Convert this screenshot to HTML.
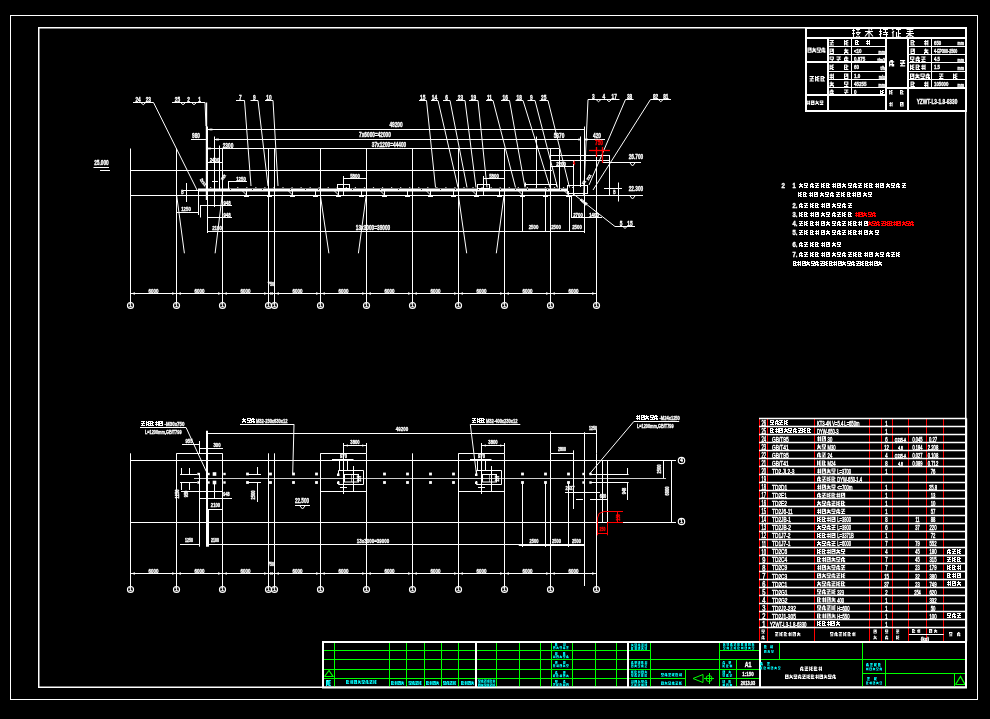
<!DOCTYPE html>
<html><head><meta charset="utf-8"><style>
html,body{margin:0;padding:0;background:#000;width:990px;height:719px;overflow:hidden}
svg{display:block;will-change:transform}
text{font-family:"Liberation Sans",sans-serif}
</style></head><body>
<svg width="990" height="719" viewBox="0 0 990 719">
<defs><path id="g0" d="M0 0h4v1h-4zM0 1h1v1h-1zM2 1h2v1h-2zM0 2h4v1h-4zM0 3h1v1h-1zM3 3h1v1h-1zM0 4h4v1h-4z"/><path id="g1" d="M1 0h1v1h-1zM0 1h4v1h-4zM1 2h2v1h-2zM0 3h4v1h-4zM0 4h1v1h-1zM3 4h1v1h-1z"/><path id="g2" d="M0 0h3v1h-3zM0 1h1v1h-1zM2 1h2v1h-2zM0 2h3v1h-3zM0 3h1v1h-1zM2 3h1v1h-1zM0 4h4v1h-4z"/><path id="g3" d="M1 0h1v1h-1zM3 0h1v1h-1zM0 1h4v1h-4zM1 2h1v1h-1zM3 2h1v1h-1zM0 3h4v1h-4zM1 4h1v1h-1zM3 4h1v1h-1z"/><path id="g4" d="M0 0h4v1h-4zM2 1h1v1h-1zM0 2h4v1h-4zM1 3h1v1h-1zM0 4h4v1h-4z"/><path id="g5" d="M0 0h1v1h-1zM2 0h2v1h-2zM0 1h3v1h-3zM0 2h1v1h-1zM2 2h2v1h-2zM0 3h3v1h-3zM0 4h1v1h-1zM2 4h2v1h-2z"/><path id="g6" d="M0 0h4v1h-4zM0 1h1v1h-1zM3 1h1v1h-1zM0 2h4v1h-4zM2 3h1v1h-1zM0 4h4v1h-4z"/><path id="g7" d="M1 0h2v1h-2zM0 1h4v1h-4zM0 2h1v1h-1zM2 2h1v1h-1zM0 3h4v1h-4zM0 4h1v1h-1zM2 4h2v1h-2z"/></defs>
<rect width="990" height="719" fill="#000"/>
<rect x="10.5" y="15.5" width="967" height="684" fill="none" stroke="#fff" stroke-width="1"/>
<rect x="38.75" y="27.75" width="927" height="659.5" fill="none" stroke="#fff" stroke-width="1.5"/>
<line x1="130.5" y1="148.5" x2="130.5" y2="302.5" stroke="#fff" stroke-width="1"/>
<circle cx="130.5" cy="305.5" r="3" fill="none" stroke="#fff" stroke-width="1.2"/>
<text x="145.00" y="307.5" transform="scale(0.9,1)" font-size="5" fill="#fff" stroke="#fff" stroke-width="0.35" text-anchor="middle" font-weight="bold">1</text>
<line x1="176.5" y1="148.5" x2="176.5" y2="302.5" stroke="#fff" stroke-width="1"/>
<circle cx="176.5" cy="305.5" r="3" fill="none" stroke="#fff" stroke-width="1.2"/>
<text x="196.11" y="307.5" transform="scale(0.9,1)" font-size="5" fill="#fff" stroke="#fff" stroke-width="0.35" text-anchor="middle" font-weight="bold">1</text>
<line x1="222.5" y1="148.5" x2="222.5" y2="302.5" stroke="#fff" stroke-width="1"/>
<circle cx="222.5" cy="305.5" r="3" fill="none" stroke="#fff" stroke-width="1.2"/>
<text x="247.22" y="307.5" transform="scale(0.9,1)" font-size="5" fill="#fff" stroke="#fff" stroke-width="0.35" text-anchor="middle" font-weight="bold">1</text>
<line x1="268.5" y1="148.5" x2="268.5" y2="302.5" stroke="#fff" stroke-width="1"/>
<circle cx="268.5" cy="305.5" r="3" fill="none" stroke="#fff" stroke-width="1.2"/>
<text x="298.33" y="307.5" transform="scale(0.9,1)" font-size="5" fill="#fff" stroke="#fff" stroke-width="0.35" text-anchor="middle" font-weight="bold">1</text>
<line x1="274.5" y1="148.5" x2="274.5" y2="302.5" stroke="#fff" stroke-width="1"/>
<circle cx="274.5" cy="305.5" r="3" fill="none" stroke="#fff" stroke-width="1.2"/>
<text x="305.00" y="307.5" transform="scale(0.9,1)" font-size="5" fill="#fff" stroke="#fff" stroke-width="0.35" text-anchor="middle" font-weight="bold">1</text>
<line x1="320.5" y1="148.5" x2="320.5" y2="302.5" stroke="#fff" stroke-width="1"/>
<circle cx="320.5" cy="305.5" r="3" fill="none" stroke="#fff" stroke-width="1.2"/>
<text x="356.11" y="307.5" transform="scale(0.9,1)" font-size="5" fill="#fff" stroke="#fff" stroke-width="0.35" text-anchor="middle" font-weight="bold">1</text>
<line x1="366.5" y1="148.5" x2="366.5" y2="302.5" stroke="#fff" stroke-width="1"/>
<circle cx="366.5" cy="305.5" r="3" fill="none" stroke="#fff" stroke-width="1.2"/>
<text x="407.22" y="307.5" transform="scale(0.9,1)" font-size="5" fill="#fff" stroke="#fff" stroke-width="0.35" text-anchor="middle" font-weight="bold">1</text>
<line x1="412.5" y1="148.5" x2="412.5" y2="302.5" stroke="#fff" stroke-width="1"/>
<circle cx="412.5" cy="305.5" r="3" fill="none" stroke="#fff" stroke-width="1.2"/>
<text x="458.33" y="307.5" transform="scale(0.9,1)" font-size="5" fill="#fff" stroke="#fff" stroke-width="0.35" text-anchor="middle" font-weight="bold">1</text>
<line x1="458.5" y1="148.5" x2="458.5" y2="302.5" stroke="#fff" stroke-width="1"/>
<circle cx="458.5" cy="305.5" r="3" fill="none" stroke="#fff" stroke-width="1.2"/>
<text x="509.44" y="307.5" transform="scale(0.9,1)" font-size="5" fill="#fff" stroke="#fff" stroke-width="0.35" text-anchor="middle" font-weight="bold">1</text>
<line x1="504.5" y1="148.5" x2="504.5" y2="302.5" stroke="#fff" stroke-width="1"/>
<circle cx="504.5" cy="305.5" r="3" fill="none" stroke="#fff" stroke-width="1.2"/>
<text x="560.56" y="307.5" transform="scale(0.9,1)" font-size="5" fill="#fff" stroke="#fff" stroke-width="0.35" text-anchor="middle" font-weight="bold">1</text>
<line x1="550.5" y1="148.5" x2="550.5" y2="302.5" stroke="#fff" stroke-width="1"/>
<circle cx="550.5" cy="305.5" r="3" fill="none" stroke="#fff" stroke-width="1.2"/>
<text x="611.67" y="307.5" transform="scale(0.9,1)" font-size="5" fill="#fff" stroke="#fff" stroke-width="0.35" text-anchor="middle" font-weight="bold">1</text>
<line x1="596.5" y1="148.5" x2="596.5" y2="302.5" stroke="#fff" stroke-width="1"/>
<circle cx="596.5" cy="305.5" r="3" fill="none" stroke="#fff" stroke-width="1.2"/>
<text x="662.78" y="307.5" transform="scale(0.9,1)" font-size="5" fill="#fff" stroke="#fff" stroke-width="0.35" text-anchor="middle" font-weight="bold">1</text>
<line x1="130" y1="170.5" x2="552" y2="170.5" stroke="#fff" stroke-width="1"/>
<line x1="130" y1="195.5" x2="643" y2="195.5" stroke="#fff" stroke-width="1"/>
<line x1="198" y1="190" x2="567" y2="190" stroke="#fff" stroke-width="3"/>
<rect x="210.0" y="187" width="1.2" height="1" fill="#fff" fill-opacity="0.8"/>
<rect x="219.05" y="187" width="1.2" height="1" fill="#fff" fill-opacity="0.8"/>
<rect x="228.1" y="187" width="1.2" height="1" fill="#fff" fill-opacity="0.8"/>
<rect x="237.15" y="187" width="1.2" height="1" fill="#fff" fill-opacity="0.8"/>
<rect x="246.2" y="187" width="1.2" height="1" fill="#fff" fill-opacity="0.8"/>
<rect x="255.25" y="187" width="1.2" height="1" fill="#fff" fill-opacity="0.8"/>
<rect x="264.3" y="187" width="1.2" height="1" fill="#fff" fill-opacity="0.8"/>
<rect x="273.35" y="187" width="1.2" height="1" fill="#fff" fill-opacity="0.8"/>
<rect x="282.4" y="187" width="1.2" height="1" fill="#fff" fill-opacity="0.8"/>
<rect x="291.45" y="187" width="1.2" height="1" fill="#fff" fill-opacity="0.8"/>
<rect x="300.5" y="187" width="1.2" height="1" fill="#fff" fill-opacity="0.8"/>
<rect x="309.55" y="187" width="1.2" height="1" fill="#fff" fill-opacity="0.8"/>
<rect x="318.6" y="187" width="1.2" height="1" fill="#fff" fill-opacity="0.8"/>
<rect x="327.65" y="187" width="1.2" height="1" fill="#fff" fill-opacity="0.8"/>
<rect x="336.70000000000005" y="187" width="1.2" height="1" fill="#fff" fill-opacity="0.8"/>
<rect x="345.75" y="187" width="1.2" height="1" fill="#fff" fill-opacity="0.8"/>
<rect x="354.8" y="187" width="1.2" height="1" fill="#fff" fill-opacity="0.8"/>
<rect x="363.85" y="187" width="1.2" height="1" fill="#fff" fill-opacity="0.8"/>
<rect x="372.9" y="187" width="1.2" height="1" fill="#fff" fill-opacity="0.8"/>
<rect x="381.95000000000005" y="187" width="1.2" height="1" fill="#fff" fill-opacity="0.8"/>
<rect x="391.0" y="187" width="1.2" height="1" fill="#fff" fill-opacity="0.8"/>
<rect x="400.05" y="187" width="1.2" height="1" fill="#fff" fill-opacity="0.8"/>
<rect x="409.1" y="187" width="1.2" height="1" fill="#fff" fill-opacity="0.8"/>
<rect x="418.15" y="187" width="1.2" height="1" fill="#fff" fill-opacity="0.8"/>
<rect x="427.20000000000005" y="187" width="1.2" height="1" fill="#fff" fill-opacity="0.8"/>
<rect x="436.25" y="187" width="1.2" height="1" fill="#fff" fill-opacity="0.8"/>
<rect x="445.3" y="187" width="1.2" height="1" fill="#fff" fill-opacity="0.8"/>
<rect x="454.35" y="187" width="1.2" height="1" fill="#fff" fill-opacity="0.8"/>
<rect x="463.40000000000003" y="187" width="1.2" height="1" fill="#fff" fill-opacity="0.8"/>
<rect x="472.45000000000005" y="187" width="1.2" height="1" fill="#fff" fill-opacity="0.8"/>
<rect x="481.5" y="187" width="1.2" height="1" fill="#fff" fill-opacity="0.8"/>
<rect x="490.55" y="187" width="1.2" height="1" fill="#fff" fill-opacity="0.8"/>
<rect x="499.6" y="187" width="1.2" height="1" fill="#fff" fill-opacity="0.8"/>
<rect x="508.65000000000003" y="187" width="1.2" height="1" fill="#fff" fill-opacity="0.8"/>
<rect x="517.7" y="187" width="1.2" height="1" fill="#fff" fill-opacity="0.8"/>
<rect x="526.75" y="187" width="1.2" height="1" fill="#fff" fill-opacity="0.8"/>
<rect x="535.8" y="187" width="1.2" height="1" fill="#fff" fill-opacity="0.8"/>
<rect x="544.85" y="187" width="1.2" height="1" fill="#fff" fill-opacity="0.8"/>
<rect x="553.9000000000001" y="187" width="1.2" height="1" fill="#fff" fill-opacity="0.8"/>
<rect x="562.95" y="187" width="1.2" height="1" fill="#fff" fill-opacity="0.8"/>
<rect x="572.0" y="187" width="1.2" height="1" fill="#fff" fill-opacity="0.8"/>
<rect x="230" y="189" width="1" height="1" fill="#000" fill-opacity="0.8"/>
<rect x="252" y="189" width="1" height="1" fill="#000" fill-opacity="0.8"/>
<rect x="262" y="189" width="1" height="1" fill="#000" fill-opacity="0.8"/>
<rect x="290" y="189" width="1" height="1" fill="#000" fill-opacity="0.8"/>
<rect x="305" y="189" width="1" height="1" fill="#000" fill-opacity="0.8"/>
<rect x="318" y="189" width="1" height="1" fill="#000" fill-opacity="0.8"/>
<rect x="343" y="189" width="1" height="1" fill="#000" fill-opacity="0.8"/>
<rect x="352" y="189" width="1" height="1" fill="#000" fill-opacity="0.8"/>
<rect x="380" y="189" width="1" height="1" fill="#000" fill-opacity="0.8"/>
<rect x="398" y="189" width="1" height="1" fill="#000" fill-opacity="0.8"/>
<rect x="421" y="189" width="1" height="1" fill="#000" fill-opacity="0.8"/>
<rect x="440" y="189" width="1" height="1" fill="#000" fill-opacity="0.8"/>
<rect x="455" y="189" width="1" height="1" fill="#000" fill-opacity="0.8"/>
<rect x="478" y="189" width="1" height="1" fill="#000" fill-opacity="0.8"/>
<rect x="500" y="189" width="1" height="1" fill="#000" fill-opacity="0.8"/>
<rect x="515" y="189" width="1" height="1" fill="#000" fill-opacity="0.8"/>
<rect x="527" y="189" width="1" height="1" fill="#000" fill-opacity="0.8"/>
<rect x="547" y="189" width="1" height="1" fill="#000" fill-opacity="0.8"/>
<rect x="560" y="189" width="1" height="1" fill="#000" fill-opacity="0.8"/>
<line x1="246.5" y1="191" x2="246.5" y2="196" stroke="#fff" stroke-width="1"/>
<line x1="244.0" y1="196.5" x2="249.0" y2="196.5" stroke="#fff" stroke-width="1"/>
<line x1="242.5" y1="191" x2="246.5" y2="195" stroke="#fff" stroke-width="1"/>
<line x1="269.5" y1="191" x2="269.5" y2="196" stroke="#fff" stroke-width="1"/>
<line x1="267.0" y1="196.5" x2="272.0" y2="196.5" stroke="#fff" stroke-width="1"/>
<line x1="292.5" y1="191" x2="292.5" y2="196" stroke="#fff" stroke-width="1"/>
<line x1="290.0" y1="196.5" x2="295.0" y2="196.5" stroke="#fff" stroke-width="1"/>
<line x1="288.5" y1="191" x2="292.5" y2="195" stroke="#fff" stroke-width="1"/>
<line x1="315.5" y1="191" x2="315.5" y2="196" stroke="#fff" stroke-width="1"/>
<line x1="313.0" y1="196.5" x2="318.0" y2="196.5" stroke="#fff" stroke-width="1"/>
<line x1="338.5" y1="191" x2="338.5" y2="196" stroke="#fff" stroke-width="1"/>
<line x1="336.0" y1="196.5" x2="341.0" y2="196.5" stroke="#fff" stroke-width="1"/>
<line x1="334.5" y1="191" x2="338.5" y2="195" stroke="#fff" stroke-width="1"/>
<line x1="361.5" y1="191" x2="361.5" y2="196" stroke="#fff" stroke-width="1"/>
<line x1="359.0" y1="196.5" x2="364.0" y2="196.5" stroke="#fff" stroke-width="1"/>
<line x1="384.5" y1="191" x2="384.5" y2="196" stroke="#fff" stroke-width="1"/>
<line x1="382.0" y1="196.5" x2="387.0" y2="196.5" stroke="#fff" stroke-width="1"/>
<line x1="380.5" y1="191" x2="384.5" y2="195" stroke="#fff" stroke-width="1"/>
<line x1="407.5" y1="191" x2="407.5" y2="196" stroke="#fff" stroke-width="1"/>
<line x1="405.0" y1="196.5" x2="410.0" y2="196.5" stroke="#fff" stroke-width="1"/>
<line x1="430.5" y1="191" x2="430.5" y2="196" stroke="#fff" stroke-width="1"/>
<line x1="428.0" y1="196.5" x2="433.0" y2="196.5" stroke="#fff" stroke-width="1"/>
<line x1="426.5" y1="191" x2="430.5" y2="195" stroke="#fff" stroke-width="1"/>
<line x1="453.5" y1="191" x2="453.5" y2="196" stroke="#fff" stroke-width="1"/>
<line x1="451.0" y1="196.5" x2="456.0" y2="196.5" stroke="#fff" stroke-width="1"/>
<line x1="476.5" y1="191" x2="476.5" y2="196" stroke="#fff" stroke-width="1"/>
<line x1="474.0" y1="196.5" x2="479.0" y2="196.5" stroke="#fff" stroke-width="1"/>
<line x1="472.5" y1="191" x2="476.5" y2="195" stroke="#fff" stroke-width="1"/>
<line x1="499.5" y1="191" x2="499.5" y2="196" stroke="#fff" stroke-width="1"/>
<line x1="497.0" y1="196.5" x2="502.0" y2="196.5" stroke="#fff" stroke-width="1"/>
<line x1="522.5" y1="191" x2="522.5" y2="196" stroke="#fff" stroke-width="1"/>
<line x1="520.0" y1="196.5" x2="525.0" y2="196.5" stroke="#fff" stroke-width="1"/>
<line x1="518.5" y1="191" x2="522.5" y2="195" stroke="#fff" stroke-width="1"/>
<line x1="545.5" y1="191" x2="545.5" y2="196" stroke="#fff" stroke-width="1"/>
<line x1="543.0" y1="196.5" x2="548.0" y2="196.5" stroke="#fff" stroke-width="1"/>
<line x1="568.5" y1="191" x2="568.5" y2="196" stroke="#fff" stroke-width="1"/>
<line x1="566.0" y1="196.5" x2="571.0" y2="196.5" stroke="#fff" stroke-width="1"/>
<line x1="564.5" y1="191" x2="568.5" y2="195" stroke="#fff" stroke-width="1"/>
<line x1="198.5" y1="191" x2="198.5" y2="197" stroke="#fff" stroke-width="1"/>
<line x1="206.5" y1="191" x2="206.5" y2="197" stroke="#fff" stroke-width="1"/>
<line x1="214.5" y1="191" x2="214.5" y2="197" stroke="#fff" stroke-width="1"/>
<line x1="222.5" y1="191" x2="222.5" y2="197" stroke="#fff" stroke-width="1"/>
<line x1="207" y1="129.5" x2="584.5" y2="129.5" stroke="#fff" stroke-width="1"/>
<line x1="191" y1="139.5" x2="206" y2="139.5" stroke="#fff" stroke-width="1"/>
<line x1="214.5" y1="139.5" x2="581" y2="139.5" stroke="#fff" stroke-width="1"/>
<line x1="584" y1="139.5" x2="605" y2="139.5" stroke="#fff" stroke-width="1"/>
<line x1="207.5" y1="148.5" x2="559" y2="148.5" stroke="#fff" stroke-width="1"/>
<line x1="207.5" y1="162.5" x2="222" y2="162.5" stroke="#fff" stroke-width="1"/>
<line x1="207" y1="231.5" x2="585" y2="231.5" stroke="#fff" stroke-width="1"/>
<line x1="130" y1="293.5" x2="597" y2="293.5" stroke="#fff" stroke-width="1"/>
<rect x="209.5" y="128.5" width="3" height="2" fill="#fff" fill-opacity="0.7"/>
<rect x="216" y="138.5" width="3" height="2" fill="#fff" fill-opacity="0.7"/>
<rect x="208" y="147.5" width="3" height="2" fill="#fff" fill-opacity="0.7"/>
<rect x="578" y="138.5" width="3" height="2" fill="#fff" fill-opacity="0.7"/>
<rect x="585" y="138.5" width="3" height="2" fill="#fff" fill-opacity="0.7"/>
<path d="M131.0 293.5l4 -1.2v2.4z" fill="#fff"/>
<path d="M176.0 293.5l-4 -1.2v2.4zM177.0 293.5l4 -1.2v2.4z" fill="#fff"/>
<path d="M222.0 293.5l-4 -1.2v2.4zM223.0 293.5l4 -1.2v2.4z" fill="#fff"/>
<path d="M268.0 293.5l-4 -1.2v2.4zM269.0 293.5l4 -1.2v2.4z" fill="#fff"/>
<path d="M274.0 293.5l-4 -1.2v2.4zM275.0 293.5l4 -1.2v2.4z" fill="#fff"/>
<path d="M320.0 293.5l-4 -1.2v2.4zM321.0 293.5l4 -1.2v2.4z" fill="#fff"/>
<path d="M366.0 293.5l-4 -1.2v2.4zM367.0 293.5l4 -1.2v2.4z" fill="#fff"/>
<path d="M412.0 293.5l-4 -1.2v2.4zM413.0 293.5l4 -1.2v2.4z" fill="#fff"/>
<path d="M458.0 293.5l-4 -1.2v2.4zM459.0 293.5l4 -1.2v2.4z" fill="#fff"/>
<path d="M504.0 293.5l-4 -1.2v2.4zM505.0 293.5l4 -1.2v2.4z" fill="#fff"/>
<path d="M550.0 293.5l-4 -1.2v2.4zM551.0 293.5l4 -1.2v2.4z" fill="#fff"/>
<path d="M596.0 293.5l-4 -1.2v2.4z" fill="#fff"/>
<text x="213.19" y="293.2" transform="scale(0.72,1)" font-size="6.2" fill="#fff" stroke="#fff" stroke-width="0.35" text-anchor="middle" font-weight="bold">6000</text>
<text x="277.08" y="293.2" transform="scale(0.72,1)" font-size="6.2" fill="#fff" stroke="#fff" stroke-width="0.35" text-anchor="middle" font-weight="bold">6000</text>
<text x="340.97" y="293.2" transform="scale(0.72,1)" font-size="6.2" fill="#fff" stroke="#fff" stroke-width="0.35" text-anchor="middle" font-weight="bold">6000</text>
<text x="413.19" y="293.2" transform="scale(0.72,1)" font-size="6.2" fill="#fff" stroke="#fff" stroke-width="0.35" text-anchor="middle" font-weight="bold">6000</text>
<text x="477.08" y="293.2" transform="scale(0.72,1)" font-size="6.2" fill="#fff" stroke="#fff" stroke-width="0.35" text-anchor="middle" font-weight="bold">6000</text>
<text x="540.97" y="293.2" transform="scale(0.72,1)" font-size="6.2" fill="#fff" stroke="#fff" stroke-width="0.35" text-anchor="middle" font-weight="bold">6000</text>
<text x="604.86" y="293.2" transform="scale(0.72,1)" font-size="6.2" fill="#fff" stroke="#fff" stroke-width="0.35" text-anchor="middle" font-weight="bold">6000</text>
<text x="668.75" y="293.2" transform="scale(0.72,1)" font-size="6.2" fill="#fff" stroke="#fff" stroke-width="0.35" text-anchor="middle" font-weight="bold">6000</text>
<text x="732.64" y="293.2" transform="scale(0.72,1)" font-size="6.2" fill="#fff" stroke="#fff" stroke-width="0.35" text-anchor="middle" font-weight="bold">6000</text>
<text x="796.53" y="293.2" transform="scale(0.72,1)" font-size="6.2" fill="#fff" stroke="#fff" stroke-width="0.35" text-anchor="middle" font-weight="bold">6000</text>
<text x="376.39" y="286.5" transform="scale(0.72,1)" font-size="5.2" fill="#fff" stroke="#fff" stroke-width="0.35" text-anchor="middle" font-weight="bold">750</text>
<line x1="268.5" y1="281" x2="268.5" y2="302" stroke="#fff" stroke-width="1"/>
<line x1="274.5" y1="281" x2="274.5" y2="302" stroke="#fff" stroke-width="1"/>
<text x="550.00" y="127.5" transform="scale(0.72,1)" font-size="6.6" fill="#fff" stroke="#fff" stroke-width="0.35" text-anchor="middle" font-weight="bold">49200</text>
<text x="520.83" y="137" transform="scale(0.72,1)" font-size="6.6" fill="#fff" stroke="#fff" stroke-width="0.35" text-anchor="middle" font-weight="bold">7x6000=42000</text>
<text x="540.28" y="147.5" transform="scale(0.72,1)" font-size="6.6" fill="#fff" stroke="#fff" stroke-width="0.35" text-anchor="middle" font-weight="bold">37x1200=44400</text>
<text x="518.06" y="230.2" transform="scale(0.72,1)" font-size="6.6" fill="#fff" stroke="#fff" stroke-width="0.35" text-anchor="middle" font-weight="bold">13x3000=39000</text>
<text x="272.22" y="138" transform="scale(0.72,1)" font-size="6.6" fill="#fff" stroke="#fff" stroke-width="0.35" text-anchor="middle" font-weight="bold">980</text>
<text x="316.67" y="148.4" transform="scale(0.72,1)" font-size="6.6" fill="#fff" stroke="#fff" stroke-width="0.35" text-anchor="middle" font-weight="bold">2300</text>
<text x="297.92" y="162" transform="scale(0.72,1)" font-size="6" fill="#fff" stroke="#fff" stroke-width="0.35" text-anchor="middle" font-weight="bold">2400</text>
<text x="334.72" y="181" transform="scale(0.72,1)" font-size="6" fill="#fff" stroke="#fff" stroke-width="0.35" text-anchor="middle" font-weight="bold">1250</text>
<line x1="228" y1="181.5" x2="247" y2="181.5" stroke="#fff" stroke-width="1"/>
<line x1="228.5" y1="181" x2="228.5" y2="190" stroke="#fff" stroke-width="1"/>
<line x1="212" y1="181.5" x2="218" y2="181.5" stroke="#fff" stroke-width="1"/>
<text x="776.39" y="138.2" transform="scale(0.72,1)" font-size="6.6" fill="#fff" stroke="#fff" stroke-width="0.35" text-anchor="middle" font-weight="bold">5370</text>
<text x="829.17" y="138.2" transform="scale(0.72,1)" font-size="6.6" fill="#fff" stroke="#fff" stroke-width="0.35" text-anchor="middle" font-weight="bold">420</text>
<line x1="206.5" y1="102.5" x2="206.5" y2="200" stroke="#fff" stroke-width="1.4"/>
<line x1="207.5" y1="126.5" x2="207.5" y2="233" stroke="#fff" stroke-width="1"/>
<line x1="214.5" y1="136.5" x2="214.5" y2="207" stroke="#fff" stroke-width="1"/>
<line x1="219.5" y1="145.5" x2="219.5" y2="191" stroke="#fff" stroke-width="1"/>
<line x1="222.5" y1="159" x2="222.5" y2="191" stroke="#fff" stroke-width="1"/>
<line x1="198.5" y1="191" x2="198.5" y2="215" stroke="#fff" stroke-width="1"/>
<line x1="186.5" y1="183" x2="186.5" y2="202" stroke="#fff" stroke-width="1"/>
<line x1="183" y1="190.5" x2="207" y2="190.5" stroke="#fff" stroke-width="1"/>
<text x="253.47" y="194.5" transform="scale(0.72,1)" font-size="4.5" fill="#fff" stroke="#fff" stroke-width="0.35" text-anchor="middle" font-weight="bold">B</text>
<text x="0" y="0" transform="translate(202,183) rotate(55) scale(0.8,1)" font-size="4.5" fill="#fff" stroke="#fff" stroke-width="0.35" text-anchor="middle" font-weight="bold">2xxx</text>
<text x="0" y="0" transform="translate(224.5,178) rotate(-55) scale(0.8,1)" font-size="4.5" fill="#fff" stroke="#fff" stroke-width="0.35" text-anchor="middle" font-weight="bold">xxx</text>
<line x1="176.5" y1="212.5" x2="198.5" y2="212.5" stroke="#fff" stroke-width="1"/>
<text x="258.33" y="211.5" transform="scale(0.72,1)" font-size="6" fill="#fff" stroke="#fff" stroke-width="0.35" text-anchor="middle" font-weight="bold">1250</text>
<line x1="200" y1="205.5" x2="232" y2="205.5" stroke="#fff" stroke-width="1"/>
<text x="315.28" y="204.8" transform="scale(0.72,1)" font-size="6" fill="#fff" stroke="#fff" stroke-width="0.35" text-anchor="middle" font-weight="bold">948</text>
<line x1="207.5" y1="217.5" x2="232" y2="217.5" stroke="#fff" stroke-width="1"/>
<text x="315.28" y="216.8" transform="scale(0.72,1)" font-size="6" fill="#fff" stroke="#fff" stroke-width="0.35" text-anchor="middle" font-weight="bold">948</text>
<text x="301.39" y="230.5" transform="scale(0.72,1)" font-size="6" fill="#fff" stroke="#fff" stroke-width="0.35" text-anchor="middle" font-weight="bold">2100</text>
<line x1="200.5" y1="205.5" x2="200.5" y2="217.5" stroke="#fff" stroke-width="1"/>
<line x1="584.5" y1="126.5" x2="584.5" y2="233" stroke="#fff" stroke-width="1"/>
<line x1="580.5" y1="136.5" x2="580.5" y2="187" stroke="#fff" stroke-width="1"/>
<line x1="559.5" y1="148.5" x2="559.5" y2="190" stroke="#fff" stroke-width="1"/>
<line x1="550.5" y1="155.5" x2="550.5" y2="190" stroke="#fff" stroke-width="1"/>
<line x1="545.5" y1="195.5" x2="545.5" y2="232" stroke="#fff" stroke-width="1"/>
<line x1="522.5" y1="195.5" x2="522.5" y2="232" stroke="#fff" stroke-width="1"/>
<line x1="569.5" y1="195.5" x2="569.5" y2="232" stroke="#fff" stroke-width="1"/>
<line x1="573.5" y1="160" x2="573.5" y2="195" stroke="#fff" stroke-width="1"/>
<line x1="571.5" y1="195" x2="571.5" y2="218" stroke="#fff" stroke-width="1"/>
<line x1="609.5" y1="155" x2="609.5" y2="195" stroke="#fff" stroke-width="1"/>
<line x1="550" y1="155.5" x2="609.5" y2="155.5" stroke="#fff" stroke-width="1"/>
<line x1="550" y1="160.5" x2="609.5" y2="160.5" stroke="#fff" stroke-width="1"/>
<line x1="603" y1="162.5" x2="641" y2="162.5" stroke="#fff" stroke-width="1"/>
<text x="883.33" y="159.5" transform="scale(0.72,1)" font-size="6.6" fill="#fff" stroke="#fff" stroke-width="0.35" text-anchor="middle" font-weight="bold">26.700</text>
<polyline points="630,163 632.5,166 635,163" fill="none" stroke="#fff" stroke-width="1"/>
<line x1="550" y1="166.5" x2="573.5" y2="166.5" stroke="#fff" stroke-width="1"/>
<text x="779.17" y="165.6" transform="scale(0.72,1)" font-size="6" fill="#fff" stroke="#fff" stroke-width="0.35" text-anchor="middle" font-weight="bold">2200</text>
<rect x="567.5" y="185.5" width="20" height="8" fill="none" stroke="#fff" stroke-width="1"/>
<line x1="536.5" y1="136.5" x2="536.5" y2="188" stroke="#fff" stroke-width="1"/>
<line x1="525.5" y1="184.5" x2="556" y2="184.5" stroke="#fff" stroke-width="1"/>
<line x1="525.5" y1="182.5" x2="525.5" y2="186.5" stroke="#fff" stroke-width="1"/>
<line x1="556.5" y1="182.5" x2="556.5" y2="186.5" stroke="#fff" stroke-width="1"/>
<text x="883.33" y="191.5" transform="scale(0.72,1)" font-size="6.6" fill="#fff" stroke="#fff" stroke-width="0.35" text-anchor="middle" font-weight="bold">22.300</text>
<polyline points="630,196 632.5,199 635,196" fill="none" stroke="#fff" stroke-width="1"/>
<line x1="618.5" y1="182.5" x2="618.5" y2="201.5" stroke="#fff" stroke-width="1"/>
<line x1="604" y1="188.5" x2="622" y2="188.5" stroke="#fff" stroke-width="1"/>
<text x="853.47" y="194" transform="scale(0.72,1)" font-size="4.5" fill="#fff" stroke="#fff" stroke-width="0.35" text-anchor="middle" font-weight="bold">B</text>
<text x="0" y="0" transform="translate(590,178) rotate(-55) scale(0.8,1)" font-size="4.5" fill="#fff" stroke="#fff" stroke-width="0.35" text-anchor="middle" font-weight="bold">xxx</text>
<text x="0" y="0" transform="translate(585,183) rotate(-55) scale(0.8,1)" font-size="4.5" fill="#fff" stroke="#fff" stroke-width="0.35" text-anchor="middle" font-weight="bold">xx</text>
<text x="0" y="0" transform="translate(583,203) rotate(40) scale(0.8,1)" font-size="4.5" fill="#fff" stroke="#fff" stroke-width="0.35" text-anchor="middle" font-weight="bold">xxxx</text>
<line x1="176.7" y1="195.5" x2="184.4" y2="253.3" stroke="#fff" stroke-width="1"/>
<line x1="222.2" y1="195.5" x2="215.1" y2="253.3" stroke="#fff" stroke-width="1"/>
<line x1="320.4" y1="195.5" x2="328.9" y2="253.3" stroke="#fff" stroke-width="1"/>
<line x1="366.2" y1="195.5" x2="358.4" y2="253.3" stroke="#fff" stroke-width="1"/>
<line x1="458.4" y1="195.5" x2="466.7" y2="253.3" stroke="#fff" stroke-width="1"/>
<line x1="504" y1="195.5" x2="496.3" y2="253.3" stroke="#fff" stroke-width="1"/>
<line x1="133" y1="102.5" x2="153.5" y2="102.5" stroke="#fff" stroke-width="1"/>
<line x1="153.5" y1="102.5" x2="197" y2="190" stroke="#fff" stroke-width="1"/>
<text x="191.84" y="101.7" transform="scale(0.72,1)" font-size="6.6" fill="#fff" stroke="#fff" stroke-width="0.35" text-anchor="middle" font-weight="bold">24</text>
<text x="206.08" y="101.7" transform="scale(0.72,1)" font-size="6.6" fill="#fff" stroke="#fff" stroke-width="0.35" text-anchor="middle" font-weight="bold">23</text>
<polyline points="140.75,102.5 143.25,104.7 145.75,102.5" fill="none" stroke="#fff" stroke-width="1"/>
<line x1="172" y1="102.5" x2="205" y2="102.5" stroke="#fff" stroke-width="1"/>
<line x1="205" y1="102.5" x2="206" y2="126" stroke="#fff" stroke-width="1"/>
<text x="246.53" y="101.7" transform="scale(0.72,1)" font-size="6.6" fill="#fff" stroke="#fff" stroke-width="0.35" text-anchor="middle" font-weight="bold">25</text>
<text x="261.81" y="101.7" transform="scale(0.72,1)" font-size="6.6" fill="#fff" stroke="#fff" stroke-width="0.35" text-anchor="middle" font-weight="bold">2</text>
<polyline points="180.5,102.5 183.0,104.7 185.5,102.5" fill="none" stroke="#fff" stroke-width="1"/>
<text x="277.08" y="101.7" transform="scale(0.72,1)" font-size="6.6" fill="#fff" stroke="#fff" stroke-width="0.35" text-anchor="middle" font-weight="bold">1</text>
<polyline points="191.5,102.5 194.0,104.7 196.5,102.5" fill="none" stroke="#fff" stroke-width="1"/>
<line x1="236" y1="100.5" x2="244.5" y2="100.5" stroke="#fff" stroke-width="1"/>
<line x1="244.5" y1="100.5" x2="251" y2="186" stroke="#fff" stroke-width="1"/>
<text x="333.68" y="99.7" transform="scale(0.72,1)" font-size="6.6" fill="#fff" stroke="#fff" stroke-width="0.35" text-anchor="middle" font-weight="bold">7</text>
<line x1="250.5" y1="100.5" x2="258" y2="100.5" stroke="#fff" stroke-width="1"/>
<line x1="258" y1="100.5" x2="268" y2="186" stroke="#fff" stroke-width="1"/>
<text x="353.12" y="99.7" transform="scale(0.72,1)" font-size="6.6" fill="#fff" stroke="#fff" stroke-width="0.35" text-anchor="middle" font-weight="bold">9</text>
<line x1="265" y1="100.5" x2="273" y2="100.5" stroke="#fff" stroke-width="1"/>
<line x1="273" y1="100.5" x2="278" y2="186" stroke="#fff" stroke-width="1"/>
<text x="373.61" y="99.7" transform="scale(0.72,1)" font-size="6.6" fill="#fff" stroke="#fff" stroke-width="0.35" text-anchor="middle" font-weight="bold">10</text>
<line x1="419" y1="100.5" x2="426.5" y2="100.5" stroke="#fff" stroke-width="1"/>
<line x1="426.5" y1="100.5" x2="435.5" y2="187.5" stroke="#fff" stroke-width="1"/>
<text x="587.15" y="99.7" transform="scale(0.72,1)" font-size="6.6" fill="#fff" stroke="#fff" stroke-width="0.35" text-anchor="middle" font-weight="bold">15</text>
<line x1="431" y1="100.5" x2="438" y2="100.5" stroke="#fff" stroke-width="1"/>
<line x1="438" y1="100.5" x2="458" y2="187.5" stroke="#fff" stroke-width="1"/>
<text x="603.47" y="99.7" transform="scale(0.72,1)" font-size="6.6" fill="#fff" stroke="#fff" stroke-width="0.35" text-anchor="middle" font-weight="bold">14</text>
<line x1="443" y1="100.5" x2="450" y2="100.5" stroke="#fff" stroke-width="1"/>
<line x1="450" y1="100.5" x2="467" y2="187.5" stroke="#fff" stroke-width="1"/>
<text x="620.14" y="99.7" transform="scale(0.72,1)" font-size="6.6" fill="#fff" stroke="#fff" stroke-width="0.35" text-anchor="middle" font-weight="bold">6</text>
<line x1="456" y1="100.5" x2="465" y2="100.5" stroke="#fff" stroke-width="1"/>
<line x1="465" y1="100.5" x2="476" y2="187.5" stroke="#fff" stroke-width="1"/>
<text x="639.58" y="99.7" transform="scale(0.72,1)" font-size="6.6" fill="#fff" stroke="#fff" stroke-width="0.35" text-anchor="middle" font-weight="bold">23</text>
<line x1="469" y1="100.5" x2="478" y2="100.5" stroke="#fff" stroke-width="1"/>
<line x1="478" y1="100.5" x2="487" y2="187.5" stroke="#fff" stroke-width="1"/>
<text x="657.64" y="99.7" transform="scale(0.72,1)" font-size="6.6" fill="#fff" stroke="#fff" stroke-width="0.35" text-anchor="middle" font-weight="bold">19</text>
<line x1="486" y1="100.5" x2="493" y2="100.5" stroke="#fff" stroke-width="1"/>
<line x1="493" y1="100.5" x2="515.5" y2="187.5" stroke="#fff" stroke-width="1"/>
<text x="679.86" y="99.7" transform="scale(0.72,1)" font-size="6.6" fill="#fff" stroke="#fff" stroke-width="0.35" text-anchor="middle" font-weight="bold">11</text>
<line x1="501" y1="100.5" x2="509.5" y2="100.5" stroke="#fff" stroke-width="1"/>
<line x1="509.5" y1="100.5" x2="525" y2="187.5" stroke="#fff" stroke-width="1"/>
<text x="701.74" y="99.7" transform="scale(0.72,1)" font-size="6.6" fill="#fff" stroke="#fff" stroke-width="0.35" text-anchor="middle" font-weight="bold">16</text>
<line x1="515.5" y1="100.5" x2="523" y2="100.5" stroke="#fff" stroke-width="1"/>
<line x1="523" y1="100.5" x2="550" y2="187.5" stroke="#fff" stroke-width="1"/>
<text x="721.18" y="99.7" transform="scale(0.72,1)" font-size="6.6" fill="#fff" stroke="#fff" stroke-width="0.35" text-anchor="middle" font-weight="bold">18</text>
<line x1="527.5" y1="100.5" x2="535" y2="100.5" stroke="#fff" stroke-width="1"/>
<line x1="535" y1="100.5" x2="557.5" y2="187.5" stroke="#fff" stroke-width="1"/>
<text x="737.85" y="99.7" transform="scale(0.72,1)" font-size="6.6" fill="#fff" stroke="#fff" stroke-width="0.35" text-anchor="middle" font-weight="bold">9</text>
<line x1="539.5" y1="100.5" x2="548" y2="100.5" stroke="#fff" stroke-width="1"/>
<line x1="548" y1="100.5" x2="569.5" y2="187.5" stroke="#fff" stroke-width="1"/>
<text x="755.21" y="99.7" transform="scale(0.72,1)" font-size="6.6" fill="#fff" stroke="#fff" stroke-width="0.35" text-anchor="middle" font-weight="bold">25</text>
<line x1="588" y1="99.5" x2="619.5" y2="99.5" stroke="#fff" stroke-width="1"/>
<line x1="588" y1="99.5" x2="583.7" y2="195" stroke="#fff" stroke-width="1"/>
<text x="823.96" y="98.7" transform="scale(0.72,1)" font-size="6.6" fill="#fff" stroke="#fff" stroke-width="0.35" text-anchor="middle" font-weight="bold">3</text>
<text x="838.54" y="98.7" transform="scale(0.72,1)" font-size="6.6" fill="#fff" stroke="#fff" stroke-width="0.35" text-anchor="middle" font-weight="bold">4</text>
<polyline points="596.0,99.5 598.5,101.7 601.0,99.5" fill="none" stroke="#fff" stroke-width="1"/>
<text x="853.12" y="98.7" transform="scale(0.72,1)" font-size="6.6" fill="#fff" stroke="#fff" stroke-width="0.35" text-anchor="middle" font-weight="bold">17</text>
<polyline points="606.5,99.5 609.0,101.7 611.5,99.5" fill="none" stroke="#fff" stroke-width="1"/>
<line x1="625.5" y1="99.5" x2="633.6" y2="99.5" stroke="#fff" stroke-width="1"/>
<line x1="625.5" y1="99.5" x2="589" y2="185" stroke="#fff" stroke-width="1"/>
<text x="874.38" y="98.7" transform="scale(0.72,1)" font-size="6.6" fill="#fff" stroke="#fff" stroke-width="0.35" text-anchor="middle" font-weight="bold">38</text>
<line x1="650.5" y1="99.5" x2="671" y2="99.5" stroke="#fff" stroke-width="1"/>
<line x1="650.5" y1="99.5" x2="593" y2="190" stroke="#fff" stroke-width="1"/>
<text x="910.59" y="98.7" transform="scale(0.72,1)" font-size="6.6" fill="#fff" stroke="#fff" stroke-width="0.35" text-anchor="middle" font-weight="bold">82</text>
<text x="924.83" y="98.7" transform="scale(0.72,1)" font-size="6.6" fill="#fff" stroke="#fff" stroke-width="0.35" text-anchor="middle" font-weight="bold">81</text>
<polyline points="658.25,99.5 660.75,101.7 663.25,99.5" fill="none" stroke="#fff" stroke-width="1"/>
<line x1="572.5" y1="193.3" x2="615" y2="226.5" stroke="#fff" stroke-width="1"/>
<line x1="615" y1="226.5" x2="635" y2="226.5" stroke="#fff" stroke-width="1"/>
<text x="862.50" y="225.6" transform="scale(0.72,1)" font-size="6.6" fill="#fff" stroke="#fff" stroke-width="0.35" text-anchor="middle" font-weight="bold">5</text>
<text x="875.00" y="225.6" transform="scale(0.72,1)" font-size="6.6" fill="#fff" stroke="#fff" stroke-width="0.35" text-anchor="middle" font-weight="bold">15</text>
<polyline points="623,226.5 625,228.5 627,226.5" fill="none" stroke="#fff" stroke-width="1"/>
<line x1="571.5" y1="217.5" x2="602" y2="217.5" stroke="#fff" stroke-width="1"/>
<text x="802.78" y="217.2" transform="scale(0.72,1)" font-size="6" fill="#fff" stroke="#fff" stroke-width="0.35" text-anchor="middle" font-weight="bold">2700</text>
<text x="825.00" y="217.2" transform="scale(0.72,1)" font-size="6" fill="#fff" stroke="#fff" stroke-width="0.35" text-anchor="middle" font-weight="bold">1400</text>
<text x="740.97" y="229.3" transform="scale(0.72,1)" font-size="6" fill="#fff" stroke="#fff" stroke-width="0.35" text-anchor="middle" font-weight="bold">2500</text>
<text x="772.22" y="229.3" transform="scale(0.72,1)" font-size="6" fill="#fff" stroke="#fff" stroke-width="0.35" text-anchor="middle" font-weight="bold">2500</text>
<text x="801.39" y="229.3" transform="scale(0.72,1)" font-size="6" fill="#fff" stroke="#fff" stroke-width="0.35" text-anchor="middle" font-weight="bold">2500</text>
<text x="493.06" y="177.6" transform="scale(0.72,1)" font-size="6" fill="#fff" stroke="#fff" stroke-width="0.35" text-anchor="middle" font-weight="bold">5800</text>
<line x1="343" y1="178.5" x2="366" y2="178.5" stroke="#fff" stroke-width="1"/>
<line x1="343.5" y1="176" x2="343.5" y2="195" stroke="#fff" stroke-width="1"/>
<rect x="337.5" y="184.5" width="12" height="4" fill="none" stroke="#fff" stroke-width="1"/>
<rect x="477.5" y="184.5" width="12" height="4" fill="none" stroke="#fff" stroke-width="1"/>
<line x1="483.5" y1="176" x2="483.5" y2="195" stroke="#fff" stroke-width="1"/>
<line x1="483" y1="178.5" x2="505" y2="178.5" stroke="#fff" stroke-width="1"/>
<text x="686.11" y="177.6" transform="scale(0.72,1)" font-size="6" fill="#fff" stroke="#fff" stroke-width="0.35" text-anchor="middle" font-weight="bold">5800</text>
<line x1="589" y1="150.5" x2="610" y2="150.5" stroke="#f00" stroke-width="1.3"/>
<line x1="596.5" y1="147" x2="596.5" y2="157" stroke="#f00" stroke-width="1.3"/>
<line x1="602.5" y1="147" x2="602.5" y2="163" stroke="#f00" stroke-width="1.3"/>
<text x="831.94" y="145.5" transform="scale(0.72,1)" font-size="6.6" fill="#f00" stroke="#f00" stroke-width="0.35" text-anchor="middle" font-weight="bold">750</text>
<text x="797.22" y="165" transform="scale(0.72,1)" font-size="5.2" fill="#f00" stroke="#f00" stroke-width="0.35" text-anchor="middle" font-weight="bold">4</text>
<line x1="93.5" y1="167.5" x2="109" y2="167.5" stroke="#fff" stroke-width="1"/>
<text x="140.97" y="165" transform="scale(0.72,1)" font-size="6.6" fill="#fff" stroke="#fff" stroke-width="0.35" text-anchor="middle" font-weight="bold">25.000</text>
<line x1="100" y1="170.5" x2="110" y2="170.5" stroke="#fff" stroke-width="1"/>
<line x1="130.5" y1="453.3" x2="130.5" y2="586.5" stroke="#fff" stroke-width="1"/>
<circle cx="130.5" cy="589.5" r="3" fill="none" stroke="#fff" stroke-width="1.2"/>
<text x="145.00" y="591.5" transform="scale(0.9,1)" font-size="5" fill="#fff" stroke="#fff" stroke-width="0.35" text-anchor="middle" font-weight="bold">1</text>
<path d="M131.0 573.5l4 -1.2v2.4z" fill="#fff"/>
<line x1="176.5" y1="453.3" x2="176.5" y2="586.5" stroke="#fff" stroke-width="1"/>
<circle cx="176.5" cy="589.5" r="3" fill="none" stroke="#fff" stroke-width="1.2"/>
<text x="196.11" y="591.5" transform="scale(0.9,1)" font-size="5" fill="#fff" stroke="#fff" stroke-width="0.35" text-anchor="middle" font-weight="bold">1</text>
<path d="M176.0 573.5l-4 -1.2v2.4zM177.0 573.5l4 -1.2v2.4z" fill="#fff"/>
<line x1="222.5" y1="453.3" x2="222.5" y2="586.5" stroke="#fff" stroke-width="1"/>
<circle cx="222.5" cy="589.5" r="3" fill="none" stroke="#fff" stroke-width="1.2"/>
<text x="247.22" y="591.5" transform="scale(0.9,1)" font-size="5" fill="#fff" stroke="#fff" stroke-width="0.35" text-anchor="middle" font-weight="bold">1</text>
<path d="M222.0 573.5l-4 -1.2v2.4zM223.0 573.5l4 -1.2v2.4z" fill="#fff"/>
<line x1="268.5" y1="453.3" x2="268.5" y2="586.5" stroke="#fff" stroke-width="1"/>
<circle cx="268.5" cy="589.5" r="3" fill="none" stroke="#fff" stroke-width="1.2"/>
<text x="298.33" y="591.5" transform="scale(0.9,1)" font-size="5" fill="#fff" stroke="#fff" stroke-width="0.35" text-anchor="middle" font-weight="bold">1</text>
<path d="M268.0 573.5l-4 -1.2v2.4zM269.0 573.5l4 -1.2v2.4z" fill="#fff"/>
<line x1="274.5" y1="453.3" x2="274.5" y2="586.5" stroke="#fff" stroke-width="1"/>
<circle cx="274.5" cy="589.5" r="3" fill="none" stroke="#fff" stroke-width="1.2"/>
<text x="305.00" y="591.5" transform="scale(0.9,1)" font-size="5" fill="#fff" stroke="#fff" stroke-width="0.35" text-anchor="middle" font-weight="bold">1</text>
<path d="M274.0 573.5l-4 -1.2v2.4zM275.0 573.5l4 -1.2v2.4z" fill="#fff"/>
<line x1="320.5" y1="453.3" x2="320.5" y2="586.5" stroke="#fff" stroke-width="1"/>
<circle cx="320.5" cy="589.5" r="3" fill="none" stroke="#fff" stroke-width="1.2"/>
<text x="356.11" y="591.5" transform="scale(0.9,1)" font-size="5" fill="#fff" stroke="#fff" stroke-width="0.35" text-anchor="middle" font-weight="bold">1</text>
<path d="M320.0 573.5l-4 -1.2v2.4zM321.0 573.5l4 -1.2v2.4z" fill="#fff"/>
<line x1="366.5" y1="453.3" x2="366.5" y2="586.5" stroke="#fff" stroke-width="1"/>
<circle cx="366.5" cy="589.5" r="3" fill="none" stroke="#fff" stroke-width="1.2"/>
<text x="407.22" y="591.5" transform="scale(0.9,1)" font-size="5" fill="#fff" stroke="#fff" stroke-width="0.35" text-anchor="middle" font-weight="bold">1</text>
<path d="M366.0 573.5l-4 -1.2v2.4zM367.0 573.5l4 -1.2v2.4z" fill="#fff"/>
<line x1="412.5" y1="453.3" x2="412.5" y2="586.5" stroke="#fff" stroke-width="1"/>
<circle cx="412.5" cy="589.5" r="3" fill="none" stroke="#fff" stroke-width="1.2"/>
<text x="458.33" y="591.5" transform="scale(0.9,1)" font-size="5" fill="#fff" stroke="#fff" stroke-width="0.35" text-anchor="middle" font-weight="bold">1</text>
<path d="M412.0 573.5l-4 -1.2v2.4zM413.0 573.5l4 -1.2v2.4z" fill="#fff"/>
<line x1="458.5" y1="453.3" x2="458.5" y2="586.5" stroke="#fff" stroke-width="1"/>
<circle cx="458.5" cy="589.5" r="3" fill="none" stroke="#fff" stroke-width="1.2"/>
<text x="509.44" y="591.5" transform="scale(0.9,1)" font-size="5" fill="#fff" stroke="#fff" stroke-width="0.35" text-anchor="middle" font-weight="bold">1</text>
<path d="M458.0 573.5l-4 -1.2v2.4zM459.0 573.5l4 -1.2v2.4z" fill="#fff"/>
<line x1="504.5" y1="453.3" x2="504.5" y2="586.5" stroke="#fff" stroke-width="1"/>
<circle cx="504.5" cy="589.5" r="3" fill="none" stroke="#fff" stroke-width="1.2"/>
<text x="560.56" y="591.5" transform="scale(0.9,1)" font-size="5" fill="#fff" stroke="#fff" stroke-width="0.35" text-anchor="middle" font-weight="bold">1</text>
<path d="M504.0 573.5l-4 -1.2v2.4zM505.0 573.5l4 -1.2v2.4z" fill="#fff"/>
<line x1="550.5" y1="453.3" x2="550.5" y2="586.5" stroke="#fff" stroke-width="1"/>
<circle cx="550.5" cy="589.5" r="3" fill="none" stroke="#fff" stroke-width="1.2"/>
<text x="611.67" y="591.5" transform="scale(0.9,1)" font-size="5" fill="#fff" stroke="#fff" stroke-width="0.35" text-anchor="middle" font-weight="bold">1</text>
<path d="M550.0 573.5l-4 -1.2v2.4zM551.0 573.5l4 -1.2v2.4z" fill="#fff"/>
<line x1="596.5" y1="453.3" x2="596.5" y2="586.5" stroke="#fff" stroke-width="1"/>
<circle cx="596.5" cy="589.5" r="3" fill="none" stroke="#fff" stroke-width="1.2"/>
<text x="662.78" y="591.5" transform="scale(0.9,1)" font-size="5" fill="#fff" stroke="#fff" stroke-width="0.35" text-anchor="middle" font-weight="bold">1</text>
<path d="M596.0 573.5l-4 -1.2v2.4z" fill="#fff"/>
<line x1="130" y1="573.5" x2="597" y2="573.5" stroke="#fff" stroke-width="1"/>
<text x="213.19" y="573.2" transform="scale(0.72,1)" font-size="6.2" fill="#fff" stroke="#fff" stroke-width="0.35" text-anchor="middle" font-weight="bold">6000</text>
<text x="277.08" y="573.2" transform="scale(0.72,1)" font-size="6.2" fill="#fff" stroke="#fff" stroke-width="0.35" text-anchor="middle" font-weight="bold">6000</text>
<text x="340.97" y="573.2" transform="scale(0.72,1)" font-size="6.2" fill="#fff" stroke="#fff" stroke-width="0.35" text-anchor="middle" font-weight="bold">6000</text>
<text x="413.19" y="573.2" transform="scale(0.72,1)" font-size="6.2" fill="#fff" stroke="#fff" stroke-width="0.35" text-anchor="middle" font-weight="bold">6000</text>
<text x="477.08" y="573.2" transform="scale(0.72,1)" font-size="6.2" fill="#fff" stroke="#fff" stroke-width="0.35" text-anchor="middle" font-weight="bold">6000</text>
<text x="540.97" y="573.2" transform="scale(0.72,1)" font-size="6.2" fill="#fff" stroke="#fff" stroke-width="0.35" text-anchor="middle" font-weight="bold">6000</text>
<text x="604.86" y="573.2" transform="scale(0.72,1)" font-size="6.2" fill="#fff" stroke="#fff" stroke-width="0.35" text-anchor="middle" font-weight="bold">6000</text>
<text x="668.75" y="573.2" transform="scale(0.72,1)" font-size="6.2" fill="#fff" stroke="#fff" stroke-width="0.35" text-anchor="middle" font-weight="bold">6000</text>
<text x="732.64" y="573.2" transform="scale(0.72,1)" font-size="6.2" fill="#fff" stroke="#fff" stroke-width="0.35" text-anchor="middle" font-weight="bold">6000</text>
<text x="796.53" y="573.2" transform="scale(0.72,1)" font-size="6.2" fill="#fff" stroke="#fff" stroke-width="0.35" text-anchor="middle" font-weight="bold">6000</text>
<text x="376.39" y="566" transform="scale(0.72,1)" font-size="5" fill="#fff" stroke="#fff" stroke-width="0.35" text-anchor="middle" font-weight="bold">750</text>
<line x1="130" y1="460.5" x2="676" y2="460.5" stroke="#fff" stroke-width="1"/>
<line x1="130" y1="522.5" x2="676" y2="522.5" stroke="#fff" stroke-width="1"/>
<line x1="194" y1="478.5" x2="666" y2="478.5" stroke="#fff" stroke-width="1" stroke-opacity="0.8"/>
<line x1="176.5" y1="453.5" x2="222.5" y2="453.5" stroke="#fff" stroke-width="1"/>
<line x1="320.5" y1="453.5" x2="366.5" y2="453.5" stroke="#fff" stroke-width="1"/>
<line x1="458.5" y1="453.5" x2="504.5" y2="453.5" stroke="#fff" stroke-width="1"/>
<line x1="320.5" y1="491.5" x2="366.5" y2="491.5" stroke="#fff" stroke-width="1"/>
<line x1="458.5" y1="491.5" x2="504.5" y2="491.5" stroke="#fff" stroke-width="1"/>
<line x1="181" y1="491.5" x2="222.5" y2="491.5" stroke="#fff" stroke-width="1"/>
<line x1="343.5" y1="443" x2="343.5" y2="494" stroke="#fff" stroke-width="1"/>
<line x1="353.5" y1="466" x2="353.5" y2="491" stroke="#fff" stroke-width="1"/>
<line x1="343.5" y1="445.5" x2="366.5" y2="445.5" stroke="#fff" stroke-width="1"/>
<line x1="366.5" y1="443" x2="366.5" y2="453" stroke="#fff" stroke-width="1"/>
<path d="M344 445.5l4 -1v2zM366 445.5l-4 -1v2z" fill="#fff"/>
<line x1="332" y1="459.5" x2="353.5" y2="459.5" stroke="#fff" stroke-width="1"/>
<line x1="339.5" y1="459.5" x2="339.5" y2="471" stroke="#fff" stroke-width="1"/>
<line x1="347.5" y1="459.5" x2="347.5" y2="471" stroke="#fff" stroke-width="1"/>
<text x="493.06" y="444.5" transform="scale(0.72,1)" font-size="5.8" fill="#fff" stroke="#fff" stroke-width="0.35" text-anchor="middle" font-weight="bold">3800</text>
<text x="477.08" y="458.5" transform="scale(0.72,1)" font-size="5.8" fill="#fff" stroke="#fff" stroke-width="0.35" text-anchor="middle" font-weight="bold">970</text>
<line x1="338.5" y1="470.5" x2="363.5" y2="470.5" stroke="#fff" stroke-width="1"/>
<line x1="338.5" y1="484.5" x2="363.5" y2="484.5" stroke="#fff" stroke-width="1"/>
<line x1="363.5" y1="470.5" x2="363.5" y2="484.5" stroke="#fff" stroke-width="1"/>
<line x1="338.5" y1="470.5" x2="338.5" y2="474" stroke="#fff" stroke-width="1"/>
<line x1="338.5" y1="481" x2="338.5" y2="484.5" stroke="#fff" stroke-width="1"/>
<rect x="344.5" y="474.5" width="14" height="7.5" fill="none" stroke="#fff" stroke-width="1"/>
<line x1="351.5" y1="474.5" x2="351.5" y2="482" stroke="#fff" stroke-width="1" stroke-opacity="0.6"/>
<rect x="337" y="473.5" width="2.5" height="2.5" fill="#fff" fill-opacity="1"/>
<rect x="337" y="481.5" width="2.5" height="2.5" fill="#fff" fill-opacity="1"/>
<text x="0" y="0" transform="translate(360.5,478.5) rotate(-90) scale(0.8,1)" font-size="4.5" fill="#fff" stroke="#fff" stroke-width="0.35" text-anchor="middle" font-weight="bold">297</text>
<line x1="340" y1="487.5" x2="347" y2="487.5" stroke="#fff" stroke-width="1"/>
<line x1="481.5" y1="443" x2="481.5" y2="494" stroke="#fff" stroke-width="1"/>
<line x1="491.5" y1="466" x2="491.5" y2="491" stroke="#fff" stroke-width="1"/>
<line x1="481.5" y1="445.5" x2="504.5" y2="445.5" stroke="#fff" stroke-width="1"/>
<line x1="504.5" y1="443" x2="504.5" y2="453" stroke="#fff" stroke-width="1"/>
<path d="M482 445.5l4 -1v2zM504 445.5l-4 -1v2z" fill="#fff"/>
<line x1="470" y1="459.5" x2="491.5" y2="459.5" stroke="#fff" stroke-width="1"/>
<line x1="477.5" y1="459.5" x2="477.5" y2="471" stroke="#fff" stroke-width="1"/>
<line x1="485.5" y1="459.5" x2="485.5" y2="471" stroke="#fff" stroke-width="1"/>
<text x="684.72" y="444.5" transform="scale(0.72,1)" font-size="5.8" fill="#fff" stroke="#fff" stroke-width="0.35" text-anchor="middle" font-weight="bold">3800</text>
<text x="668.75" y="458.5" transform="scale(0.72,1)" font-size="5.8" fill="#fff" stroke="#fff" stroke-width="0.35" text-anchor="middle" font-weight="bold">970</text>
<line x1="476.5" y1="470.5" x2="501.5" y2="470.5" stroke="#fff" stroke-width="1"/>
<line x1="476.5" y1="484.5" x2="501.5" y2="484.5" stroke="#fff" stroke-width="1"/>
<line x1="501.5" y1="470.5" x2="501.5" y2="484.5" stroke="#fff" stroke-width="1"/>
<line x1="476.5" y1="470.5" x2="476.5" y2="474" stroke="#fff" stroke-width="1"/>
<line x1="476.5" y1="481" x2="476.5" y2="484.5" stroke="#fff" stroke-width="1"/>
<rect x="482.5" y="474.5" width="14" height="7.5" fill="none" stroke="#fff" stroke-width="1"/>
<line x1="489.5" y1="474.5" x2="489.5" y2="482" stroke="#fff" stroke-width="1" stroke-opacity="0.6"/>
<rect x="475" y="473.5" width="2.5" height="2.5" fill="#fff" fill-opacity="1"/>
<rect x="475" y="481.5" width="2.5" height="2.5" fill="#fff" fill-opacity="1"/>
<text x="0" y="0" transform="translate(498.5,478.5) rotate(-90) scale(0.8,1)" font-size="4.5" fill="#fff" stroke="#fff" stroke-width="0.35" text-anchor="middle" font-weight="bold">297</text>
<line x1="478" y1="487.5" x2="485" y2="487.5" stroke="#fff" stroke-width="1"/>
<rect x="246.1" y="472.6" width="2.8" height="2.8" fill="#fff" fill-opacity="1"/>
<rect x="246.1" y="481.1" width="2.8" height="2.8" fill="#fff" fill-opacity="1"/>
<rect x="269.1" y="472.6" width="2.8" height="2.8" fill="#fff" fill-opacity="1"/>
<rect x="269.1" y="481.1" width="2.8" height="2.8" fill="#fff" fill-opacity="1"/>
<rect x="292.1" y="472.6" width="2.8" height="2.8" fill="#fff" fill-opacity="1"/>
<rect x="292.1" y="481.1" width="2.8" height="2.8" fill="#fff" fill-opacity="1"/>
<rect x="315.1" y="472.6" width="2.8" height="2.8" fill="#fff" fill-opacity="1"/>
<rect x="315.1" y="481.1" width="2.8" height="2.8" fill="#fff" fill-opacity="1"/>
<rect x="383.1" y="472.6" width="2.8" height="2.8" fill="#fff" fill-opacity="1"/>
<rect x="383.1" y="481.1" width="2.8" height="2.8" fill="#fff" fill-opacity="1"/>
<rect x="406.1" y="472.6" width="2.8" height="2.8" fill="#fff" fill-opacity="1"/>
<rect x="406.1" y="481.1" width="2.8" height="2.8" fill="#fff" fill-opacity="1"/>
<rect x="429.1" y="472.6" width="2.8" height="2.8" fill="#fff" fill-opacity="1"/>
<rect x="429.1" y="481.1" width="2.8" height="2.8" fill="#fff" fill-opacity="1"/>
<rect x="452.1" y="472.6" width="2.8" height="2.8" fill="#fff" fill-opacity="1"/>
<rect x="452.1" y="481.1" width="2.8" height="2.8" fill="#fff" fill-opacity="1"/>
<rect x="521.1" y="472.6" width="2.8" height="2.8" fill="#fff" fill-opacity="1"/>
<rect x="521.1" y="481.1" width="2.8" height="2.8" fill="#fff" fill-opacity="1"/>
<rect x="544.1" y="472.6" width="2.8" height="2.8" fill="#fff" fill-opacity="1"/>
<rect x="544.1" y="481.1" width="2.8" height="2.8" fill="#fff" fill-opacity="1"/>
<rect x="567.1" y="472.6" width="2.8" height="2.8" fill="#fff" fill-opacity="1"/>
<rect x="567.1" y="481.1" width="2.8" height="2.8" fill="#fff" fill-opacity="1"/>
<rect x="197.3" y="472.8" width="2.4" height="2.4" fill="#fff" fill-opacity="1"/>
<rect x="197.3" y="481.3" width="2.4" height="2.4" fill="#fff" fill-opacity="1"/>
<rect x="207.3" y="472.8" width="2.4" height="2.4" fill="#fff" fill-opacity="1"/>
<rect x="207.3" y="481.3" width="2.4" height="2.4" fill="#fff" fill-opacity="1"/>
<rect x="223.3" y="472.8" width="2.4" height="2.4" fill="#fff" fill-opacity="1"/>
<rect x="223.3" y="481.3" width="2.4" height="2.4" fill="#fff" fill-opacity="1"/>
<rect x="582.3" y="472.8" width="2.4" height="2.4" fill="#fff" fill-opacity="1"/>
<rect x="582.3" y="481.3" width="2.4" height="2.4" fill="#fff" fill-opacity="1"/>
<rect x="589.3" y="472.8" width="2.4" height="2.4" fill="#fff" fill-opacity="1"/>
<rect x="589.3" y="481.3" width="2.4" height="2.4" fill="#fff" fill-opacity="1"/>
<rect x="212.7" y="472.2" width="3.6" height="3.6" fill="#fff" fill-opacity="1"/>
<rect x="212.7" y="480.7" width="3.6" height="3.6" fill="#fff" fill-opacity="1"/>
<line x1="207" y1="430.8" x2="207" y2="546.7" stroke="#fff" stroke-width="2"/>
<text x="299.31" y="507.5" transform="scale(0.72,1)" font-size="5.8" fill="#fff" stroke="#fff" stroke-width="0.35" text-anchor="middle" font-weight="bold">2100</text>
<line x1="199.5" y1="473" x2="199.5" y2="546.7" stroke="#fff" stroke-width="1"/>
<line x1="208.5" y1="509" x2="208.5" y2="546.7" stroke="#fff" stroke-width="1"/>
<line x1="208" y1="509.5" x2="222.5" y2="509.5" stroke="#fff" stroke-width="1"/>
<line x1="207" y1="433.5" x2="597" y2="433.5" stroke="#fff" stroke-width="1"/>
<text x="558.33" y="431.5" transform="scale(0.72,1)" font-size="6.2" fill="#fff" stroke="#fff" stroke-width="0.35" text-anchor="middle" font-weight="bold">49200</text>
<line x1="207" y1="544.5" x2="585" y2="544.5" stroke="#fff" stroke-width="1"/>
<line x1="180" y1="544.5" x2="199" y2="544.5" stroke="#fff" stroke-width="1"/>
<text x="262.50" y="542.5" transform="scale(0.72,1)" font-size="5" fill="#fff" stroke="#fff" stroke-width="0.35" text-anchor="middle" font-weight="bold">1250</text>
<text x="298.61" y="542.5" transform="scale(0.72,1)" font-size="5" fill="#fff" stroke="#fff" stroke-width="0.35" text-anchor="middle" font-weight="bold">2100</text>
<text x="518.06" y="543.5" transform="scale(0.72,1)" font-size="6.2" fill="#fff" stroke="#fff" stroke-width="0.35" text-anchor="middle" font-weight="bold">13x3000=39000</text>
<line x1="180" y1="474.5" x2="197" y2="474.5" stroke="#fff" stroke-width="1"/>
<line x1="180" y1="482.5" x2="197" y2="482.5" stroke="#fff" stroke-width="1"/>
<line x1="181.5" y1="468" x2="181.5" y2="474.5" stroke="#fff" stroke-width="1"/>
<line x1="189.5" y1="468" x2="189.5" y2="474.5" stroke="#fff" stroke-width="1"/>
<line x1="181.5" y1="482.5" x2="181.5" y2="490" stroke="#fff" stroke-width="1"/>
<line x1="189.5" y1="482.5" x2="189.5" y2="490" stroke="#fff" stroke-width="1"/>
<line x1="247" y1="474.5" x2="261" y2="474.5" stroke="#fff" stroke-width="1"/>
<line x1="247" y1="482.5" x2="261" y2="482.5" stroke="#fff" stroke-width="1"/>
<line x1="257.5" y1="467" x2="257.5" y2="474.5" stroke="#fff" stroke-width="1"/>
<line x1="257.5" y1="482.5" x2="257.5" y2="502" stroke="#fff" stroke-width="1"/>
<text x="0" y="0" transform="translate(178.5,494) rotate(-90) scale(0.8,1)" font-size="5" fill="#fff" stroke="#fff" stroke-width="0.35" text-anchor="middle" font-weight="bold">1250</text>
<text x="0" y="0" transform="translate(187.5,494) rotate(-90) scale(0.8,1)" font-size="5" fill="#fff" stroke="#fff" stroke-width="0.35" text-anchor="middle" font-weight="bold">950</text>
<text x="0" y="0" transform="translate(254.5,495) rotate(-90) scale(0.8,1)" font-size="5" fill="#fff" stroke="#fff" stroke-width="0.35" text-anchor="middle" font-weight="bold">2500</text>
<line x1="214.5" y1="482.5" x2="214.5" y2="498" stroke="#fff" stroke-width="1"/>
<line x1="200" y1="498.5" x2="232" y2="498.5" stroke="#fff" stroke-width="1"/>
<text x="314.58" y="496" transform="scale(0.72,1)" font-size="5.2" fill="#fff" stroke="#fff" stroke-width="0.35" text-anchor="middle" font-weight="bold">948</text>
<line x1="182" y1="444.5" x2="199" y2="444.5" stroke="#fff" stroke-width="1"/>
<text x="262.50" y="443" transform="scale(0.72,1)" font-size="6" fill="#fff" stroke="#fff" stroke-width="0.35" text-anchor="middle" font-weight="bold">955</text>
<line x1="200" y1="448.5" x2="223" y2="448.5" stroke="#fff" stroke-width="1"/>
<text x="301.39" y="447.5" transform="scale(0.72,1)" font-size="6" fill="#fff" stroke="#fff" stroke-width="0.35" text-anchor="middle" font-weight="bold">300</text>
<line x1="199.5" y1="441" x2="199.5" y2="453" stroke="#fff" stroke-width="1"/>
<line x1="140" y1="427.5" x2="186" y2="427.5" stroke="#fff" stroke-width="1"/>
<line x1="186" y1="427.4" x2="206.4" y2="471.7" stroke="#fff" stroke-width="1"/>
<g fill="#fff"><use href="#g4" transform="translate(141.00,421.00) scale(1.000)"/><use href="#g5" transform="translate(146.00,421.00) scale(1.000)"/><use href="#g2" transform="translate(150.00,421.00) scale(1.000)"/><use href="#g3" transform="translate(155.00,421.00) scale(1.000)"/><use href="#g0" transform="translate(159.00,421.00) scale(1.000)"/></g>
<text x="228.47" y="426" transform="scale(0.72,1)" font-size="6.2" fill="#fff" stroke="#fff" stroke-width="0.35" text-anchor="start" font-weight="bold">-M30x750</text>
<text x="233.87" y="434" transform="scale(0.62,1)" font-size="6.2" fill="#fff" stroke="#fff" stroke-width="0.35" text-anchor="start" font-weight="bold">L=1200mm,GB/T799</text>
<line x1="240" y1="424.5" x2="294" y2="424.5" stroke="#fff" stroke-width="1"/>
<line x1="294" y1="424.2" x2="292.7" y2="473.6" stroke="#fff" stroke-width="1"/>
<g fill="#fff"><use href="#g1" transform="translate(242.00,418.00) scale(1.000)"/><use href="#g6" transform="translate(247.00,418.00) scale(1.000)"/><use href="#g7" transform="translate(251.00,418.00) scale(1.000)"/></g>
<text x="393.85" y="423.5" transform="scale(0.65,1)" font-size="6.2" fill="#fff" stroke="#fff" stroke-width="0.35" text-anchor="start" font-weight="bold">M32-230x630x12</text>
<line x1="470.3" y1="424.5" x2="520.3" y2="424.5" stroke="#fff" stroke-width="1"/>
<line x1="470.3" y1="424.5" x2="476.4" y2="473.6" stroke="#fff" stroke-width="1"/>
<g fill="#fff"><use href="#g4" transform="translate(472.00,418.00) scale(1.000)"/><use href="#g5" transform="translate(477.00,418.00) scale(1.000)"/><use href="#g2" transform="translate(481.00,418.00) scale(1.000)"/></g>
<text x="747.69" y="423" transform="scale(0.65,1)" font-size="6.2" fill="#fff" stroke="#fff" stroke-width="0.35" text-anchor="start" font-weight="bold">M32-400x230x12</text>
<line x1="295" y1="505.5" x2="310" y2="505.5" stroke="#fff" stroke-width="1"/>
<polyline points="300,506 302.5,509 305,506" fill="none" stroke="#fff" stroke-width="1"/>
<text x="419.44" y="503.5" transform="scale(0.72,1)" font-size="6.4" fill="#fff" stroke="#fff" stroke-width="0.35" text-anchor="middle" font-weight="bold">22.500</text>
<line x1="550.5" y1="431.3" x2="550.5" y2="453.3" stroke="#fff" stroke-width="1"/>
<line x1="573.5" y1="450.3" x2="573.5" y2="509" stroke="#fff" stroke-width="1"/>
<line x1="584.5" y1="432.2" x2="584.5" y2="586" stroke="#fff" stroke-width="1"/>
<line x1="596.5" y1="429.5" x2="596.5" y2="453.3" stroke="#fff" stroke-width="1"/>
<line x1="602.5" y1="460" x2="602.5" y2="522" stroke="#fff" stroke-width="1"/>
<line x1="607.5" y1="460" x2="607.5" y2="522" stroke="#fff" stroke-width="1"/>
<line x1="671.5" y1="460" x2="671.5" y2="522" stroke="#fff" stroke-width="1"/>
<line x1="663.5" y1="460" x2="663.5" y2="478.3" stroke="#fff" stroke-width="1"/>
<circle cx="681.5" cy="460.5" r="3.2" fill="none" stroke="#fff" stroke-width="1.2"/>
<text x="757.22" y="462.5" transform="scale(0.9,1)" font-size="5" fill="#fff" stroke="#fff" stroke-width="0.35" text-anchor="middle" font-weight="bold">4</text>
<circle cx="681.5" cy="521.5" r="3.2" fill="none" stroke="#fff" stroke-width="1.2"/>
<text x="757.22" y="523.5" transform="scale(0.9,1)" font-size="5" fill="#fff" stroke="#fff" stroke-width="0.35" text-anchor="middle" font-weight="bold">1</text>
<line x1="550.8" y1="453.5" x2="573.5" y2="453.5" stroke="#fff" stroke-width="1"/>
<text x="780.56" y="451" transform="scale(0.72,1)" font-size="5" fill="#fff" stroke="#fff" stroke-width="0.35" text-anchor="middle" font-weight="bold">2800</text>
<line x1="589.7" y1="473.8" x2="634" y2="421.3" stroke="#fff" stroke-width="1"/>
<line x1="634" y1="421.5" x2="679.2" y2="421.5" stroke="#fff" stroke-width="1"/>
<g fill="#fff"><use href="#g3" transform="translate(636.00,415.00) scale(1.000)"/><use href="#g0" transform="translate(641.00,415.00) scale(1.000)"/><use href="#g1" transform="translate(645.00,415.00) scale(1.000)"/><use href="#g6" transform="translate(650.00,415.00) scale(1.000)"/><use href="#g7" transform="translate(654.00,415.00) scale(1.000)"/></g>
<text x="1014.62" y="420" transform="scale(0.65,1)" font-size="6.2" fill="#fff" stroke="#fff" stroke-width="0.35" text-anchor="start" font-weight="bold">-M24x1250</text>
<text x="1027.42" y="428.5" transform="scale(0.62,1)" font-size="6.2" fill="#fff" stroke="#fff" stroke-width="0.35" text-anchor="start" font-weight="bold">L=1200mm,GB/T799</text>
<text x="823.61" y="430.5" transform="scale(0.72,1)" font-size="5" fill="#fff" stroke="#fff" stroke-width="0.35" text-anchor="middle" font-weight="bold">1250</text>
<line x1="590" y1="474.5" x2="628.6" y2="474.5" stroke="#fff" stroke-width="1"/>
<line x1="590" y1="482.5" x2="628.6" y2="482.5" stroke="#fff" stroke-width="1"/>
<line x1="627.5" y1="468" x2="627.5" y2="474" stroke="#fff" stroke-width="1"/>
<line x1="627.5" y1="482.5" x2="627.5" y2="500" stroke="#fff" stroke-width="1"/>
<text x="0" y="0" transform="translate(626,491) rotate(-90) scale(0.8,1)" font-size="5" fill="#fff" stroke="#fff" stroke-width="0.35" text-anchor="middle" font-weight="bold">948</text>
<text x="0" y="0" transform="translate(660.5,469) rotate(-90) scale(0.8,1)" font-size="5" fill="#fff" stroke="#fff" stroke-width="0.35" text-anchor="middle" font-weight="bold">2500</text>
<text x="0" y="0" transform="translate(669,491) rotate(-90) scale(0.8,1)" font-size="5" fill="#fff" stroke="#fff" stroke-width="0.35" text-anchor="middle" font-weight="bold">6000</text>
<text x="791.67" y="490.5" transform="scale(0.72,1)" font-size="5.5" fill="#fff" stroke="#fff" stroke-width="0.35" text-anchor="middle" font-weight="bold">2537</text>
<line x1="588" y1="492.5" x2="600" y2="492.5" stroke="#fff" stroke-width="1"/>
<text x="837.50" y="498" transform="scale(0.72,1)" font-size="5.5" fill="#fff" stroke="#fff" stroke-width="0.35" text-anchor="middle" font-weight="bold">600</text>
<polyline points="597.5,535.3 597.5,518 599,513.5 604,511.5 623,511.5" fill="none" stroke="#f00" stroke-width="1"/>
<line x1="607" y1="522.5" x2="623" y2="522.5" stroke="#f00" stroke-width="1"/>
<line x1="607.5" y1="522.6" x2="607.5" y2="535.3" stroke="#f00" stroke-width="1"/>
<line x1="617.5" y1="511" x2="617.5" y2="523" stroke="#f00" stroke-width="1"/>
<line x1="597" y1="533.5" x2="608" y2="533.5" stroke="#f00" stroke-width="1"/>
<text x="0" y="0" transform="translate(619.5,517.5) rotate(-90) scale(0.8,1)" font-size="5" fill="#f00" stroke="#f00" stroke-width="0.35" text-anchor="middle" font-weight="bold">150</text>
<text x="836.81" y="531" transform="scale(0.72,1)" font-size="5" fill="#f00" stroke="#f00" stroke-width="0.35" text-anchor="middle" font-weight="bold">250</text>
<line x1="522.5" y1="482.5" x2="522.5" y2="547" stroke="#fff" stroke-width="1"/>
<line x1="545.5" y1="482.5" x2="545.5" y2="547" stroke="#fff" stroke-width="1"/>
<line x1="568.5" y1="482.5" x2="568.5" y2="547" stroke="#fff" stroke-width="1"/>
<line x1="518.75" y1="545.5" x2="585" y2="545.5" stroke="#fff" stroke-width="1"/>
<text x="741.67" y="543.5" transform="scale(0.72,1)" font-size="5.5" fill="#fff" stroke="#fff" stroke-width="0.35" text-anchor="middle" font-weight="bold">2500</text>
<text x="772.92" y="543.5" transform="scale(0.72,1)" font-size="5.5" fill="#fff" stroke="#fff" stroke-width="0.35" text-anchor="middle" font-weight="bold">2500</text>
<text x="800.69" y="543.5" transform="scale(0.72,1)" font-size="5.5" fill="#fff" stroke="#fff" stroke-width="0.35" text-anchor="middle" font-weight="bold">2500</text>
<line x1="565" y1="492.5" x2="591" y2="492.5" stroke="#fff" stroke-width="1"/>
<line x1="590" y1="499.5" x2="608" y2="499.5" stroke="#fff" stroke-width="1"/>
<line x1="576" y1="499.5" x2="583" y2="499.5" stroke="#fff" stroke-width="1"/>
<line x1="806" y1="27" x2="806" y2="112" stroke="#fff" stroke-width="2"/>
<line x1="805" y1="28" x2="967" y2="28" stroke="#fff" stroke-width="2"/>
<line x1="966" y1="27" x2="966" y2="112" stroke="#fff" stroke-width="2"/>
<line x1="805" y1="111" x2="967" y2="111" stroke="#fff" stroke-width="2"/>
<line x1="805" y1="38" x2="967" y2="38" stroke="#fff" stroke-width="2"/>
<path d="M1 2.5h3M2.5 0v9.5M1 5.5h3M5 1.5h4M7 0v3.5M5 4.5h4l-4 5M5 4.5l4 5" transform="translate(851,28)" fill="none" stroke="#fff" stroke-width="1.1"/>
<path d="M0.5 3.5h8M4.5 0v9.5M4.5 3.5l-4 5M4.5 3.5l4 5M6.5 1l1 1" transform="translate(864.5,28)" fill="none" stroke="#fff" stroke-width="1.1"/>
<path d="M0 3.5h3M1.5 0v9.5M0 6.5l3-1M4 1.5h5M6.5 0v4M4 4.5h5M4 6.5h5M7.5 5v4.5h-1" transform="translate(879,28)" fill="none" stroke="#fff" stroke-width="1.1"/>
<path d="M2 0l-2 2M2 3l-2 2M1 4v5.5M4 1.5h5M4 9h5M6.5 1.5v7.5M6.5 5.5h2.5M4.5 4v5" transform="translate(892,28)" fill="none" stroke="#fff" stroke-width="1.1"/>
<path d="M1 1.5h7M1.5 3.5h6M0.5 5.5h8M4.5 0v5.5M4.5 5.5l-4 4M4.5 6.5l4 3M4.5 6.5v3" transform="translate(905.5,28)" fill="none" stroke="#fff" stroke-width="1.1"/>
<line x1="828" y1="38" x2="828" y2="111" stroke="#fff" stroke-width="2"/>
<line x1="851.5" y1="38" x2="851.5" y2="95.5" stroke="#fff" stroke-width="1"/>
<line x1="886" y1="38" x2="886" y2="111" stroke="#fff" stroke-width="2"/>
<line x1="908" y1="38" x2="908" y2="111" stroke="#fff" stroke-width="2"/>
<line x1="931.5" y1="38" x2="931.5" y2="88" stroke="#fff" stroke-width="1"/>
<line x1="828" y1="46.5" x2="886" y2="46.5" stroke="#fff" stroke-width="1"/>
<line x1="828" y1="54.5" x2="886" y2="54.5" stroke="#fff" stroke-width="1"/>
<line x1="828" y1="71.5" x2="886" y2="71.5" stroke="#fff" stroke-width="1"/>
<line x1="828" y1="79.5" x2="886" y2="79.5" stroke="#fff" stroke-width="1"/>
<line x1="828" y1="87.5" x2="886" y2="87.5" stroke="#fff" stroke-width="1"/>
<line x1="805" y1="62" x2="886" y2="62" stroke="#fff" stroke-width="2"/>
<line x1="805" y1="95" x2="886" y2="95" stroke="#fff" stroke-width="2"/>
<line x1="908.5" y1="46.5" x2="966" y2="46.5" stroke="#fff" stroke-width="1"/>
<line x1="908.5" y1="54.5" x2="966" y2="54.5" stroke="#fff" stroke-width="1"/>
<line x1="908.5" y1="62.5" x2="966" y2="62.5" stroke="#fff" stroke-width="1"/>
<line x1="908.5" y1="71.5" x2="966" y2="71.5" stroke="#fff" stroke-width="1"/>
<line x1="908.5" y1="79.5" x2="966" y2="79.5" stroke="#fff" stroke-width="1"/>
<line x1="886" y1="88" x2="966" y2="88" stroke="#fff" stroke-width="2"/>
<g fill="#fff"><use href="#g4" transform="translate(829.50,40.00) scale(1.100)"/></g>
<g fill="#fff"><use href="#g5" transform="translate(844.00,40.00) scale(1.100)"/></g>
<g fill="#fff"><use href="#g2" transform="translate(855.00,40.00) scale(1.000)"/></g>
<g fill="#fff"><use href="#g3" transform="translate(866.00,40.00) scale(1.000)"/></g>
<g fill="#fff"><use href="#g0" transform="translate(829.50,48.50) scale(1.100)"/></g>
<g fill="#fff"><use href="#g1" transform="translate(844.00,48.50) scale(1.100)"/></g>
<text x="1138.67" y="53.5" transform="scale(0.75,1)" font-size="6" fill="#fff" stroke="#fff" stroke-width="0.35" text-anchor="start" font-weight="bold"><10</text>
<text x="1106.25" y="53.7" transform="scale(0.8,1)" font-size="4.5" fill="#fff" stroke="#fff" stroke-width="0.35" text-anchor="end" font-weight="bold">mm</text>
<g fill="#fff"><use href="#g6" transform="translate(829.50,56.50) scale(1.100)"/></g>
<g fill="#fff"><use href="#g7" transform="translate(844.00,56.50) scale(1.100)"/></g>
<g fill="#fff"><use href="#g4" transform="translate(836.50,56.50) scale(1.100)"/></g>
<text x="1138.67" y="61.5" transform="scale(0.75,1)" font-size="6" fill="#fff" stroke="#fff" stroke-width="0.35" text-anchor="start" font-weight="bold">0.875</text>
<text x="1106.25" y="61.7" transform="scale(0.8,1)" font-size="4.5" fill="#fff" stroke="#fff" stroke-width="0.35" text-anchor="end" font-weight="bold">t/m3</text>
<g fill="#fff"><use href="#g5" transform="translate(829.50,64.50) scale(1.100)"/></g>
<g fill="#fff"><use href="#g2" transform="translate(844.00,64.50) scale(1.100)"/></g>
<text x="1138.67" y="69.5" transform="scale(0.75,1)" font-size="6" fill="#fff" stroke="#fff" stroke-width="0.35" text-anchor="start" font-weight="bold">60</text>
<text x="1106.25" y="69.7" transform="scale(0.8,1)" font-size="4.5" fill="#fff" stroke="#fff" stroke-width="0.35" text-anchor="end" font-weight="bold">t/h</text>
<g fill="#fff"><use href="#g3" transform="translate(829.50,73.50) scale(1.100)"/></g>
<g fill="#fff"><use href="#g0" transform="translate(844.00,73.50) scale(1.100)"/></g>
<text x="1138.67" y="78.5" transform="scale(0.75,1)" font-size="6" fill="#fff" stroke="#fff" stroke-width="0.35" text-anchor="start" font-weight="bold">1.0</text>
<text x="1106.25" y="78.7" transform="scale(0.8,1)" font-size="4.5" fill="#fff" stroke="#fff" stroke-width="0.35" text-anchor="end" font-weight="bold">m/s</text>
<g fill="#fff"><use href="#g1" transform="translate(829.50,81.50) scale(1.100)"/></g>
<g fill="#fff"><use href="#g6" transform="translate(844.00,81.50) scale(1.100)"/></g>
<text x="1138.67" y="86.5" transform="scale(0.75,1)" font-size="6" fill="#fff" stroke="#fff" stroke-width="0.35" text-anchor="start" font-weight="bold">45255</text>
<text x="1106.25" y="86.7" transform="scale(0.8,1)" font-size="4.5" fill="#fff" stroke="#fff" stroke-width="0.35" text-anchor="end" font-weight="bold">mm</text>
<g fill="#fff"><use href="#g7" transform="translate(829.50,89.50) scale(1.100)"/></g>
<g fill="#fff"><use href="#g4" transform="translate(844.00,89.50) scale(1.100)"/></g>
<text x="1138.67" y="94.5" transform="scale(0.75,1)" font-size="6" fill="#fff" stroke="#fff" stroke-width="0.35" text-anchor="start" font-weight="bold">0</text>
<g fill="#fff"><use href="#g5" transform="translate(880.00,90.00) scale(1.000)"/></g>
<g fill="#fff"><use href="#g2" transform="translate(910.50,40.00) scale(1.100)"/></g>
<g fill="#fff"><use href="#g3" transform="translate(924.00,40.00) scale(1.100)"/></g>
<text x="1297.22" y="45" transform="scale(0.72,1)" font-size="6" fill="#fff" stroke="#fff" stroke-width="0.35" text-anchor="start" font-weight="bold">650</text>
<text x="1205.00" y="45.2" transform="scale(0.8,1)" font-size="4.5" fill="#fff" stroke="#fff" stroke-width="0.35" text-anchor="end" font-weight="bold">mm</text>
<g fill="#fff"><use href="#g0" transform="translate(910.50,48.50) scale(1.100)"/></g>
<g fill="#fff"><use href="#g1" transform="translate(924.00,48.50) scale(1.100)"/></g>
<text x="1297.22" y="53.5" transform="scale(0.72,1)" font-size="5" fill="#fff" stroke="#fff" stroke-width="0.35" text-anchor="start" font-weight="bold">4-EP300-2500</text>
<g fill="#fff"><use href="#g6" transform="translate(910.00,56.50) scale(1.100)"/><use href="#g7" transform="translate(915.60,56.50) scale(1.100)"/><use href="#g4" transform="translate(921.20,56.50) scale(1.100)"/></g>
<text x="1297.22" y="61.5" transform="scale(0.72,1)" font-size="6" fill="#fff" stroke="#fff" stroke-width="0.35" text-anchor="start" font-weight="bold">4.5</text>
<text x="1205.00" y="61.7" transform="scale(0.8,1)" font-size="4.5" fill="#fff" stroke="#fff" stroke-width="0.35" text-anchor="end" font-weight="bold">mm</text>
<g fill="#fff"><use href="#g5" transform="translate(910.00,64.50) scale(1.100)"/><use href="#g2" transform="translate(915.60,64.50) scale(1.100)"/><use href="#g3" transform="translate(921.20,64.50) scale(1.100)"/></g>
<text x="1297.22" y="69.5" transform="scale(0.72,1)" font-size="6" fill="#fff" stroke="#fff" stroke-width="0.35" text-anchor="start" font-weight="bold">1.5</text>
<text x="1205.00" y="69.7" transform="scale(0.8,1)" font-size="4.5" fill="#fff" stroke="#fff" stroke-width="0.35" text-anchor="end" font-weight="bold">mm</text>
<g fill="#fff"><use href="#g0" transform="translate(910.00,73.50) scale(1.100)"/><use href="#g1" transform="translate(915.20,73.50) scale(1.100)"/><use href="#g6" transform="translate(920.40,73.50) scale(1.100)"/><use href="#g7" transform="translate(925.60,73.50) scale(1.100)"/></g>
<g fill="#fff"><use href="#g4" transform="translate(939.00,73.50) scale(1.100)"/></g>
<g fill="#fff"><use href="#g5" transform="translate(953.00,73.50) scale(1.100)"/></g>
<g fill="#fff"><use href="#g2" transform="translate(910.50,81.50) scale(1.100)"/></g>
<g fill="#fff"><use href="#g3" transform="translate(924.00,81.50) scale(1.100)"/></g>
<text x="1297.22" y="86.5" transform="scale(0.72,1)" font-size="6" fill="#fff" stroke="#fff" stroke-width="0.35" text-anchor="start" font-weight="bold">105000</text>
<text x="1205.00" y="86.7" transform="scale(0.8,1)" font-size="4.5" fill="#fff" stroke="#fff" stroke-width="0.35" text-anchor="end" font-weight="bold">mm</text>
<g fill="#fff"><use href="#g0" transform="translate(807.50,47.50) scale(1.040)"/><use href="#g1" transform="translate(812.10,47.50) scale(1.040)"/><use href="#g6" transform="translate(816.70,47.50) scale(1.040)"/><use href="#g7" transform="translate(821.30,47.50) scale(1.040)"/></g>
<g fill="#fff"><use href="#g4" transform="translate(809.50,76.00) scale(1.100)"/><use href="#g5" transform="translate(815.00,76.00) scale(1.100)"/><use href="#g2" transform="translate(820.50,76.00) scale(1.100)"/></g>
<g fill="#fff"><use href="#g3" transform="translate(806.50,100.50) scale(0.900)"/><use href="#g0" transform="translate(810.90,100.50) scale(0.900)"/><use href="#g1" transform="translate(815.30,100.50) scale(0.900)"/><use href="#g6" transform="translate(819.70,100.50) scale(0.900)"/></g>
<g fill="#fff"><use href="#g7" transform="translate(889.00,60.00) scale(1.300)"/></g>
<g fill="#fff"><use href="#g4" transform="translate(900.00,60.00) scale(1.300)"/></g>
<g fill="#fff"><use href="#g5" transform="translate(889.00,90.00) scale(0.900)"/></g>
<g fill="#fff"><use href="#g2" transform="translate(900.00,90.00) scale(0.900)"/></g>
<g fill="#fff"><use href="#g3" transform="translate(889.00,102.00) scale(0.900)"/></g>
<g fill="#fff"><use href="#g0" transform="translate(900.00,102.00) scale(0.900)"/></g>
<text x="1377.94" y="104.5" transform="scale(0.68,1)" font-size="7" fill="#fff" stroke="#fff" stroke-width="0.35" text-anchor="middle" font-weight="bold">YZWT-L3-1.8-6330</text>
<text x="868.33" y="188" transform="scale(0.9,1)" font-size="7" fill="#fff" stroke="#fff" stroke-width="0.35" text-anchor="start" font-weight="bold">2</text>
<text x="880.67" y="188.0" transform="scale(0.9,1)" font-size="6.5" fill="#fff" stroke="#fff" stroke-width="0.35" text-anchor="start" font-weight="bold">1</text>
<g fill="#fff"><use href="#g1" transform="translate(799.00,183.00) scale(1.000)"/><use href="#g6" transform="translate(804.00,183.00) scale(1.000)"/><use href="#g7" transform="translate(810.00,183.00) scale(1.000)"/><use href="#g4" transform="translate(815.00,183.00) scale(1.000)"/><use href="#g5" transform="translate(821.00,183.00) scale(1.000)"/><use href="#g2" transform="translate(826.00,183.00) scale(1.000)"/><use href="#g3" transform="translate(832.00,183.00) scale(1.000)"/><use href="#g0" transform="translate(837.00,183.00) scale(1.000)"/><use href="#g1" transform="translate(842.00,183.00) scale(1.000)"/><use href="#g6" transform="translate(848.00,183.00) scale(1.000)"/><use href="#g7" transform="translate(853.00,183.00) scale(1.000)"/><use href="#g4" transform="translate(858.00,183.00) scale(1.000)"/><use href="#g5" transform="translate(864.00,183.00) scale(1.000)"/><use href="#g2" transform="translate(869.00,183.00) scale(1.000)"/><use href="#g3" transform="translate(875.00,183.00) scale(1.000)"/><use href="#g0" transform="translate(880.00,183.00) scale(1.000)"/><use href="#g1" transform="translate(886.00,183.00) scale(1.000)"/><use href="#g6" transform="translate(891.00,183.00) scale(1.000)"/><use href="#g7" transform="translate(896.00,183.00) scale(1.000)"/><use href="#g4" transform="translate(902.00,183.00) scale(1.000)"/></g>
<g fill="#fff"><use href="#g5" transform="translate(798.00,192.00) scale(1.000)"/><use href="#g2" transform="translate(803.00,192.00) scale(1.000)"/><use href="#g3" transform="translate(809.00,192.00) scale(1.000)"/><use href="#g0" transform="translate(814.00,192.00) scale(1.000)"/><use href="#g1" transform="translate(820.00,192.00) scale(1.000)"/><use href="#g6" transform="translate(825.00,192.00) scale(1.000)"/><use href="#g7" transform="translate(830.00,192.00) scale(1.000)"/><use href="#g4" transform="translate(836.00,192.00) scale(1.000)"/><use href="#g5" transform="translate(841.00,192.00) scale(1.000)"/><use href="#g2" transform="translate(847.00,192.00) scale(1.000)"/><use href="#g3" transform="translate(852.00,192.00) scale(1.000)"/><use href="#g0" transform="translate(857.00,192.00) scale(1.000)"/><use href="#g1" transform="translate(863.00,192.00) scale(1.000)"/><use href="#g6" transform="translate(868.00,192.00) scale(1.000)"/></g>
<text x="880.67" y="208.2" transform="scale(0.9,1)" font-size="6.5" fill="#fff" stroke="#fff" stroke-width="0.35" text-anchor="start" font-weight="bold">2.</text>
<g fill="#fff"><use href="#g7" transform="translate(799.00,203.00) scale(1.000)"/><use href="#g4" transform="translate(804.00,203.00) scale(1.000)"/><use href="#g5" transform="translate(810.00,203.00) scale(1.000)"/><use href="#g2" transform="translate(815.00,203.00) scale(1.000)"/><use href="#g3" transform="translate(821.00,203.00) scale(1.000)"/><use href="#g0" transform="translate(826.00,203.00) scale(1.000)"/><use href="#g1" transform="translate(832.00,203.00) scale(1.000)"/><use href="#g6" transform="translate(837.00,203.00) scale(1.000)"/><use href="#g7" transform="translate(842.00,203.00) scale(1.000)"/><use href="#g4" transform="translate(848.00,203.00) scale(1.000)"/></g>
<text x="880.67" y="217.39999999999998" transform="scale(0.9,1)" font-size="6.5" fill="#fff" stroke="#fff" stroke-width="0.35" text-anchor="start" font-weight="bold">3.</text>
<g fill="#fff"><use href="#g5" transform="translate(799.00,212.00) scale(1.000)"/><use href="#g2" transform="translate(804.00,212.00) scale(1.000)"/><use href="#g3" transform="translate(810.00,212.00) scale(1.000)"/><use href="#g0" transform="translate(815.00,212.00) scale(1.000)"/><use href="#g1" transform="translate(821.00,212.00) scale(1.000)"/><use href="#g6" transform="translate(826.00,212.00) scale(1.000)"/><use href="#g7" transform="translate(832.00,212.00) scale(1.000)"/><use href="#g4" transform="translate(837.00,212.00) scale(1.000)"/><use href="#g5" transform="translate(842.00,212.00) scale(1.000)"/><use href="#g2" transform="translate(848.00,212.00) scale(1.000)"/></g>
<g fill="#f00"><use href="#g3" transform="translate(855.00,212.00) scale(1.000)"/><use href="#g0" transform="translate(859.00,212.00) scale(1.000)"/><use href="#g1" transform="translate(863.00,212.00) scale(1.000)"/><use href="#g6" transform="translate(868.00,212.00) scale(1.000)"/><use href="#g7" transform="translate(872.00,212.00) scale(1.000)"/></g>
<text x="880.67" y="226.5" transform="scale(0.9,1)" font-size="6.5" fill="#fff" stroke="#fff" stroke-width="0.35" text-anchor="start" font-weight="bold">4.</text>
<g fill="#fff"><use href="#g4" transform="translate(799.00,221.00) scale(1.000)"/><use href="#g5" transform="translate(804.00,221.00) scale(1.000)"/><use href="#g2" transform="translate(810.00,221.00) scale(1.000)"/><use href="#g3" transform="translate(815.00,221.00) scale(1.000)"/><use href="#g0" transform="translate(821.00,221.00) scale(1.000)"/><use href="#g1" transform="translate(826.00,221.00) scale(1.000)"/><use href="#g6" transform="translate(832.00,221.00) scale(1.000)"/><use href="#g7" transform="translate(837.00,221.00) scale(1.000)"/><use href="#g4" transform="translate(842.00,221.00) scale(1.000)"/><use href="#g5" transform="translate(848.00,221.00) scale(1.000)"/><use href="#g2" transform="translate(853.00,221.00) scale(1.000)"/><use href="#g3" transform="translate(858.00,221.00) scale(1.000)"/><use href="#g0" transform="translate(864.00,221.00) scale(1.000)"/></g>
<g fill="#f00"><use href="#g1" transform="translate(868.00,221.00) scale(1.000)"/><use href="#g6" transform="translate(872.00,221.00) scale(1.000)"/><use href="#g7" transform="translate(876.00,221.00) scale(1.000)"/><use href="#g4" transform="translate(881.00,221.00) scale(1.000)"/><use href="#g5" transform="translate(885.00,221.00) scale(1.000)"/><use href="#g2" transform="translate(889.00,221.00) scale(1.000)"/><use href="#g3" transform="translate(893.00,221.00) scale(1.000)"/><use href="#g0" transform="translate(897.00,221.00) scale(1.000)"/><use href="#g1" transform="translate(902.00,221.00) scale(1.000)"/><use href="#g6" transform="translate(906.00,221.00) scale(1.000)"/><use href="#g7" transform="translate(910.00,221.00) scale(1.000)"/></g>
<text x="880.67" y="234.89999999999998" transform="scale(0.9,1)" font-size="6.5" fill="#fff" stroke="#fff" stroke-width="0.35" text-anchor="start" font-weight="bold">5.</text>
<g fill="#fff"><use href="#g4" transform="translate(799.00,230.00) scale(1.000)"/><use href="#g5" transform="translate(804.00,230.00) scale(1.000)"/><use href="#g2" transform="translate(810.00,230.00) scale(1.000)"/><use href="#g3" transform="translate(815.00,230.00) scale(1.000)"/><use href="#g0" transform="translate(821.00,230.00) scale(1.000)"/><use href="#g1" transform="translate(826.00,230.00) scale(1.000)"/><use href="#g6" transform="translate(832.00,230.00) scale(1.000)"/><use href="#g7" transform="translate(837.00,230.00) scale(1.000)"/><use href="#g4" transform="translate(842.00,230.00) scale(1.000)"/><use href="#g5" transform="translate(848.00,230.00) scale(1.000)"/><use href="#g2" transform="translate(853.00,230.00) scale(1.000)"/><use href="#g3" transform="translate(858.00,230.00) scale(1.000)"/><use href="#g0" transform="translate(864.00,230.00) scale(1.000)"/><use href="#g1" transform="translate(869.00,230.00) scale(1.000)"/><use href="#g6" transform="translate(875.00,230.00) scale(1.000)"/></g>
<text x="880.67" y="247.5" transform="scale(0.9,1)" font-size="6.5" fill="#fff" stroke="#fff" stroke-width="0.35" text-anchor="start" font-weight="bold">6.</text>
<g fill="#fff"><use href="#g7" transform="translate(799.00,242.00) scale(1.000)"/><use href="#g4" transform="translate(804.00,242.00) scale(1.000)"/><use href="#g5" transform="translate(810.00,242.00) scale(1.000)"/><use href="#g2" transform="translate(815.00,242.00) scale(1.000)"/><use href="#g3" transform="translate(821.00,242.00) scale(1.000)"/><use href="#g0" transform="translate(826.00,242.00) scale(1.000)"/><use href="#g1" transform="translate(832.00,242.00) scale(1.000)"/><use href="#g6" transform="translate(837.00,242.00) scale(1.000)"/></g>
<text x="880.67" y="257.5" transform="scale(0.9,1)" font-size="6.5" fill="#fff" stroke="#fff" stroke-width="0.35" text-anchor="start" font-weight="bold">7.</text>
<g fill="#fff"><use href="#g7" transform="translate(799.00,252.00) scale(1.000)"/><use href="#g4" transform="translate(804.00,252.00) scale(1.000)"/><use href="#g5" transform="translate(810.00,252.00) scale(1.000)"/><use href="#g2" transform="translate(815.00,252.00) scale(1.000)"/><use href="#g3" transform="translate(821.00,252.00) scale(1.000)"/><use href="#g0" transform="translate(826.00,252.00) scale(1.000)"/><use href="#g1" transform="translate(832.00,252.00) scale(1.000)"/><use href="#g6" transform="translate(837.00,252.00) scale(1.000)"/><use href="#g7" transform="translate(842.00,252.00) scale(1.000)"/><use href="#g4" transform="translate(848.00,252.00) scale(1.000)"/><use href="#g5" transform="translate(853.00,252.00) scale(1.000)"/><use href="#g2" transform="translate(858.00,252.00) scale(1.000)"/><use href="#g3" transform="translate(864.00,252.00) scale(1.000)"/><use href="#g0" transform="translate(869.00,252.00) scale(1.000)"/><use href="#g1" transform="translate(875.00,252.00) scale(1.000)"/><use href="#g6" transform="translate(880.00,252.00) scale(1.000)"/><use href="#g7" transform="translate(886.00,252.00) scale(1.000)"/><use href="#g4" transform="translate(891.00,252.00) scale(1.000)"/><use href="#g5" transform="translate(896.00,252.00) scale(1.000)"/></g>
<g fill="#fff"><use href="#g2" transform="translate(793.00,261.00) scale(1.000)"/><use href="#g3" transform="translate(797.00,261.00) scale(1.000)"/><use href="#g0" transform="translate(802.00,261.00) scale(1.000)"/><use href="#g1" transform="translate(806.00,261.00) scale(1.000)"/><use href="#g6" transform="translate(811.00,261.00) scale(1.000)"/><use href="#g7" transform="translate(815.00,261.00) scale(1.000)"/><use href="#g4" transform="translate(820.00,261.00) scale(1.000)"/><use href="#g5" transform="translate(824.00,261.00) scale(1.000)"/><use href="#g2" transform="translate(829.00,261.00) scale(1.000)"/><use href="#g3" transform="translate(833.00,261.00) scale(1.000)"/><use href="#g0" transform="translate(838.00,261.00) scale(1.000)"/><use href="#g1" transform="translate(842.00,261.00) scale(1.000)"/><use href="#g6" transform="translate(847.00,261.00) scale(1.000)"/><use href="#g7" transform="translate(851.00,261.00) scale(1.000)"/><use href="#g4" transform="translate(856.00,261.00) scale(1.000)"/><use href="#g5" transform="translate(860.00,261.00) scale(1.000)"/><use href="#g2" transform="translate(865.00,261.00) scale(1.000)"/><use href="#g3" transform="translate(869.00,261.00) scale(1.000)"/><use href="#g0" transform="translate(874.00,261.00) scale(1.000)"/><use href="#g1" transform="translate(878.00,261.00) scale(1.000)"/></g>
<line x1="759.5" y1="418.4" x2="759.5" y2="641.3" stroke="#f00" stroke-width="1"/>
<line x1="767.5" y1="418.4" x2="767.5" y2="641.3" stroke="#f00" stroke-width="1"/>
<line x1="814.5" y1="418.4" x2="814.5" y2="641.3" stroke="#f00" stroke-width="1"/>
<line x1="869.5" y1="418.4" x2="869.5" y2="641.3" stroke="#f00" stroke-width="1"/>
<line x1="881.5" y1="418.4" x2="881.5" y2="641.3" stroke="#f00" stroke-width="1"/>
<line x1="892.5" y1="418.4" x2="892.5" y2="641.3" stroke="#f00" stroke-width="1"/>
<line x1="908.5" y1="418.4" x2="908.5" y2="641.3" stroke="#f00" stroke-width="1"/>
<line x1="926.5" y1="418.4" x2="926.5" y2="641.3" stroke="#f00" stroke-width="1"/>
<line x1="943.5" y1="418.4" x2="943.5" y2="641.3" stroke="#f00" stroke-width="1"/>
<line x1="966.5" y1="418.4" x2="966.5" y2="641.3" stroke="#fff" stroke-width="1.4"/>
<line x1="759" y1="418.5" x2="966.5" y2="418.5" stroke="#fff" stroke-width="1.3"/>
<line x1="759" y1="426.5" x2="966.5" y2="426.5" stroke="#fff" stroke-width="1.3"/>
<line x1="759" y1="434.5" x2="966.5" y2="434.5" stroke="#fff" stroke-width="1.3"/>
<line x1="759" y1="442.5" x2="966.5" y2="442.5" stroke="#fff" stroke-width="1.3"/>
<line x1="759" y1="450.5" x2="966.5" y2="450.5" stroke="#fff" stroke-width="1.3"/>
<line x1="759" y1="458.5" x2="966.5" y2="458.5" stroke="#fff" stroke-width="1.3"/>
<line x1="759" y1="466.5" x2="966.5" y2="466.5" stroke="#fff" stroke-width="1.3"/>
<line x1="759" y1="474.5" x2="966.5" y2="474.5" stroke="#fff" stroke-width="1.3"/>
<line x1="759" y1="482.5" x2="966.5" y2="482.5" stroke="#fff" stroke-width="1.3"/>
<line x1="759" y1="490.5" x2="966.5" y2="490.5" stroke="#fff" stroke-width="1.3"/>
<line x1="759" y1="498.5" x2="966.5" y2="498.5" stroke="#fff" stroke-width="1.3"/>
<line x1="759" y1="506.5" x2="966.5" y2="506.5" stroke="#fff" stroke-width="1.3"/>
<line x1="759" y1="515.5" x2="966.5" y2="515.5" stroke="#fff" stroke-width="1.3"/>
<line x1="759" y1="523.5" x2="966.5" y2="523.5" stroke="#fff" stroke-width="1.3"/>
<line x1="759" y1="531.5" x2="966.5" y2="531.5" stroke="#fff" stroke-width="1.3"/>
<line x1="759" y1="539.5" x2="966.5" y2="539.5" stroke="#fff" stroke-width="1.3"/>
<line x1="759" y1="547.5" x2="966.5" y2="547.5" stroke="#fff" stroke-width="1.3"/>
<line x1="759" y1="555.5" x2="966.5" y2="555.5" stroke="#fff" stroke-width="1.3"/>
<line x1="759" y1="563.5" x2="966.5" y2="563.5" stroke="#fff" stroke-width="1.3"/>
<line x1="759" y1="571.5" x2="966.5" y2="571.5" stroke="#fff" stroke-width="1.3"/>
<line x1="759" y1="579.5" x2="966.5" y2="579.5" stroke="#fff" stroke-width="1.3"/>
<line x1="759" y1="587.5" x2="966.5" y2="587.5" stroke="#fff" stroke-width="1.3"/>
<line x1="759" y1="595.5" x2="966.5" y2="595.5" stroke="#fff" stroke-width="1.3"/>
<line x1="759" y1="603.5" x2="966.5" y2="603.5" stroke="#fff" stroke-width="1.3"/>
<line x1="759" y1="611.5" x2="966.5" y2="611.5" stroke="#fff" stroke-width="1.3"/>
<line x1="759" y1="619.5" x2="966.5" y2="619.5" stroke="#fff" stroke-width="1.3"/>
<line x1="759" y1="627.5" x2="966.5" y2="627.5" stroke="#fff" stroke-width="1.3"/>
<line x1="908.9" y1="634.5" x2="943.7" y2="634.5" stroke="#fff" stroke-width="1"/>
<text x="1527.60" y="425.79999999999995" transform="scale(0.5,1)" font-size="8.2" fill="#fff" stroke="#fff" stroke-width="0.5" text-anchor="middle">26</text>
<g fill="#fff"><use href="#g6" transform="translate(770.00,420.00) scale(1.000)"/><use href="#g7" transform="translate(775.00,420.00) scale(1.000)"/><use href="#g4" transform="translate(779.00,420.00) scale(1.000)"/><use href="#g5" transform="translate(784.00,420.00) scale(1.000)"/></g>
<text x="1485.45" y="425.59999999999997" transform="scale(0.55,1)" font-size="7.5" fill="#fff" stroke="#fff" stroke-width="0.5" text-anchor="start">KT3-4N V=5.4 L=650m</text>
<text x="1477.50" y="425.59999999999997" transform="scale(0.6,1)" font-size="7" fill="#fff" stroke="#fff" stroke-width="0.5" text-anchor="middle">1</text>
<text x="1527.60" y="433.84999999999997" transform="scale(0.5,1)" font-size="8.2" fill="#fff" stroke="#fff" stroke-width="0.5" text-anchor="middle">25</text>
<g fill="#fff"><use href="#g2" transform="translate(770.00,428.00) scale(1.000)"/><use href="#g3" transform="translate(775.00,428.00) scale(1.000)"/><use href="#g0" transform="translate(779.00,428.00) scale(1.000)"/><use href="#g1" transform="translate(784.00,428.00) scale(1.000)"/><use href="#g6" transform="translate(788.00,428.00) scale(1.000)"/><use href="#g7" transform="translate(793.00,428.00) scale(1.000)"/><use href="#g4" transform="translate(798.00,428.00) scale(1.000)"/><use href="#g5" transform="translate(802.00,428.00) scale(1.000)"/><use href="#g2" transform="translate(807.00,428.00) scale(1.000)"/></g>
<text x="1485.45" y="433.65" transform="scale(0.55,1)" font-size="7.5" fill="#fff" stroke="#fff" stroke-width="0.5" text-anchor="start">DYW-650-3</text>
<text x="1477.50" y="433.65" transform="scale(0.6,1)" font-size="7" fill="#fff" stroke="#fff" stroke-width="0.5" text-anchor="middle">1</text>
<text x="1527.60" y="441.9" transform="scale(0.5,1)" font-size="8.2" fill="#fff" stroke="#fff" stroke-width="0.5" text-anchor="middle">24</text>
<text x="1245.16" y="441.7" transform="scale(0.62,1)" font-size="7.8" fill="#fff" stroke="#fff" stroke-width="0.5" text-anchor="start">GB/T95</text>
<g fill="#fff"><use href="#g3" transform="translate(817.00,436.30) scale(1.040)"/><use href="#g0" transform="translate(821.80,436.30) scale(1.040)"/></g>
<text x="1504.73" y="441.7" transform="scale(0.55,1)" font-size="7.5" fill="#fff" stroke="#fff" stroke-width="0.5" text-anchor="start">30</text>
<text x="1477.50" y="441.7" transform="scale(0.6,1)" font-size="7" fill="#fff" stroke="#fff" stroke-width="0.5" text-anchor="middle">6</text>
<text x="1500.83" y="441.7" transform="scale(0.6,1)" font-size="5.5" fill="#fff" stroke="#fff" stroke-width="0.5" text-anchor="middle">Q235-A</text>
<text x="1529.17" y="441.7" transform="scale(0.6,1)" font-size="6.5" fill="#fff" stroke="#fff" stroke-width="0.5" text-anchor="middle">0.045</text>
<text x="1555.00" y="441.7" transform="scale(0.6,1)" font-size="7" fill="#fff" stroke="#fff" stroke-width="0.5" text-anchor="middle">0.27</text>
<text x="1527.60" y="449.94999999999993" transform="scale(0.5,1)" font-size="8.2" fill="#fff" stroke="#fff" stroke-width="0.5" text-anchor="middle">23</text>
<text x="1245.16" y="449.74999999999994" transform="scale(0.62,1)" font-size="7.8" fill="#fff" stroke="#fff" stroke-width="0.5" text-anchor="start">GB/T41</text>
<g fill="#fff"><use href="#g1" transform="translate(817.00,444.35) scale(1.040)"/><use href="#g6" transform="translate(821.80,444.35) scale(1.040)"/></g>
<text x="1504.73" y="449.74999999999994" transform="scale(0.55,1)" font-size="7.5" fill="#fff" stroke="#fff" stroke-width="0.5" text-anchor="start">M30</text>
<text x="1477.50" y="449.74999999999994" transform="scale(0.6,1)" font-size="7" fill="#fff" stroke="#fff" stroke-width="0.5" text-anchor="middle">12</text>
<text x="1500.83" y="449.74999999999994" transform="scale(0.6,1)" font-size="5.5" fill="#fff" stroke="#fff" stroke-width="0.5" text-anchor="middle">4.8</text>
<text x="1529.17" y="449.74999999999994" transform="scale(0.6,1)" font-size="6.5" fill="#fff" stroke="#fff" stroke-width="0.5" text-anchor="middle">0.184</text>
<text x="1555.00" y="449.74999999999994" transform="scale(0.6,1)" font-size="7" fill="#fff" stroke="#fff" stroke-width="0.5" text-anchor="middle">2.208</text>
<text x="1527.60" y="457.99999999999994" transform="scale(0.5,1)" font-size="8.2" fill="#fff" stroke="#fff" stroke-width="0.5" text-anchor="middle">22</text>
<text x="1245.16" y="457.79999999999995" transform="scale(0.62,1)" font-size="7.8" fill="#fff" stroke="#fff" stroke-width="0.5" text-anchor="start">GB/T95</text>
<g fill="#fff"><use href="#g7" transform="translate(817.00,452.40) scale(1.040)"/><use href="#g4" transform="translate(821.80,452.40) scale(1.040)"/></g>
<text x="1504.73" y="457.79999999999995" transform="scale(0.55,1)" font-size="7.5" fill="#fff" stroke="#fff" stroke-width="0.5" text-anchor="start">24</text>
<text x="1477.50" y="457.79999999999995" transform="scale(0.6,1)" font-size="7" fill="#fff" stroke="#fff" stroke-width="0.5" text-anchor="middle">4</text>
<text x="1500.83" y="457.79999999999995" transform="scale(0.6,1)" font-size="5.5" fill="#fff" stroke="#fff" stroke-width="0.5" text-anchor="middle">Q235-A</text>
<text x="1529.17" y="457.79999999999995" transform="scale(0.6,1)" font-size="6.5" fill="#fff" stroke="#fff" stroke-width="0.5" text-anchor="middle">0.027</text>
<text x="1555.00" y="457.79999999999995" transform="scale(0.6,1)" font-size="7" fill="#fff" stroke="#fff" stroke-width="0.5" text-anchor="middle">0.108</text>
<text x="1527.60" y="466.04999999999995" transform="scale(0.5,1)" font-size="8.2" fill="#fff" stroke="#fff" stroke-width="0.5" text-anchor="middle">21</text>
<text x="1245.16" y="465.84999999999997" transform="scale(0.62,1)" font-size="7.8" fill="#fff" stroke="#fff" stroke-width="0.5" text-anchor="start">GB/T41</text>
<g fill="#fff"><use href="#g5" transform="translate(817.00,460.45) scale(1.040)"/><use href="#g2" transform="translate(821.80,460.45) scale(1.040)"/></g>
<text x="1504.73" y="465.84999999999997" transform="scale(0.55,1)" font-size="7.5" fill="#fff" stroke="#fff" stroke-width="0.5" text-anchor="start">M24</text>
<text x="1477.50" y="465.84999999999997" transform="scale(0.6,1)" font-size="7" fill="#fff" stroke="#fff" stroke-width="0.5" text-anchor="middle">8</text>
<text x="1500.83" y="465.84999999999997" transform="scale(0.6,1)" font-size="5.5" fill="#fff" stroke="#fff" stroke-width="0.5" text-anchor="middle">4.8</text>
<text x="1529.17" y="465.84999999999997" transform="scale(0.6,1)" font-size="6.5" fill="#fff" stroke="#fff" stroke-width="0.5" text-anchor="middle">0.089</text>
<text x="1555.00" y="465.84999999999997" transform="scale(0.6,1)" font-size="7" fill="#fff" stroke="#fff" stroke-width="0.5" text-anchor="middle">0.712</text>
<text x="1527.60" y="474.09999999999997" transform="scale(0.5,1)" font-size="8.2" fill="#fff" stroke="#fff" stroke-width="0.5" text-anchor="middle">20</text>
<text x="1245.16" y="473.9" transform="scale(0.62,1)" font-size="7.8" fill="#fff" stroke="#fff" stroke-width="0.5" text-anchor="start">TD2.JL2-3</text>
<g fill="#fff"><use href="#g3" transform="translate(817.00,468.50) scale(1.040)"/><use href="#g0" transform="translate(821.80,468.50) scale(1.040)"/><use href="#g1" transform="translate(826.60,468.50) scale(1.040)"/><use href="#g6" transform="translate(831.40,468.50) scale(1.040)"/></g>
<text x="1522.18" y="473.9" transform="scale(0.55,1)" font-size="7.5" fill="#fff" stroke="#fff" stroke-width="0.5" text-anchor="start">L=3700</text>
<text x="1477.50" y="473.9" transform="scale(0.6,1)" font-size="7" fill="#fff" stroke="#fff" stroke-width="0.5" text-anchor="middle">1</text>
<text x="1555.00" y="473.9" transform="scale(0.6,1)" font-size="7" fill="#fff" stroke="#fff" stroke-width="0.5" text-anchor="middle">76</text>
<text x="1527.60" y="482.15" transform="scale(0.5,1)" font-size="8.2" fill="#fff" stroke="#fff" stroke-width="0.5" text-anchor="middle">19</text>
<g fill="#fff"><use href="#g7" transform="translate(817.00,476.55) scale(1.040)"/><use href="#g4" transform="translate(821.80,476.55) scale(1.040)"/><use href="#g5" transform="translate(826.60,476.55) scale(1.040)"/><use href="#g2" transform="translate(831.40,476.55) scale(1.040)"/></g>
<text x="1522.18" y="481.95" transform="scale(0.55,1)" font-size="7.5" fill="#fff" stroke="#fff" stroke-width="0.5" text-anchor="start">DYW-650-1.4</text>
<text x="1527.60" y="490.19999999999993" transform="scale(0.5,1)" font-size="8.2" fill="#fff" stroke="#fff" stroke-width="0.5" text-anchor="middle">18</text>
<text x="1245.16" y="489.99999999999994" transform="scale(0.62,1)" font-size="7.8" fill="#fff" stroke="#fff" stroke-width="0.5" text-anchor="start">TD2D1</text>
<g fill="#fff"><use href="#g3" transform="translate(817.00,484.60) scale(1.040)"/><use href="#g0" transform="translate(821.80,484.60) scale(1.040)"/><use href="#g1" transform="translate(826.60,484.60) scale(1.040)"/><use href="#g6" transform="translate(831.40,484.60) scale(1.040)"/></g>
<text x="1522.18" y="489.99999999999994" transform="scale(0.55,1)" font-size="7.5" fill="#fff" stroke="#fff" stroke-width="0.5" text-anchor="start"><=700m</text>
<text x="1477.50" y="489.99999999999994" transform="scale(0.6,1)" font-size="7" fill="#fff" stroke="#fff" stroke-width="0.5" text-anchor="middle">1</text>
<text x="1555.00" y="489.99999999999994" transform="scale(0.6,1)" font-size="7" fill="#fff" stroke="#fff" stroke-width="0.5" text-anchor="middle">25.8</text>
<text x="1527.60" y="498.24999999999994" transform="scale(0.5,1)" font-size="8.2" fill="#fff" stroke="#fff" stroke-width="0.5" text-anchor="middle">17</text>
<text x="1245.16" y="498.04999999999995" transform="scale(0.62,1)" font-size="7.8" fill="#fff" stroke="#fff" stroke-width="0.5" text-anchor="start">TD2E1</text>
<g fill="#fff"><use href="#g7" transform="translate(817.00,492.65) scale(1.040)"/><use href="#g4" transform="translate(821.80,492.65) scale(1.040)"/><use href="#g5" transform="translate(826.60,492.65) scale(1.040)"/><use href="#g2" transform="translate(831.40,492.65) scale(1.040)"/><use href="#g3" transform="translate(836.20,492.65) scale(1.040)"/><use href="#g0" transform="translate(841.00,492.65) scale(1.040)"/></g>
<text x="1477.50" y="498.04999999999995" transform="scale(0.6,1)" font-size="7" fill="#fff" stroke="#fff" stroke-width="0.5" text-anchor="middle">1</text>
<text x="1555.00" y="498.04999999999995" transform="scale(0.6,1)" font-size="7" fill="#fff" stroke="#fff" stroke-width="0.5" text-anchor="middle">13</text>
<text x="1527.60" y="506.29999999999995" transform="scale(0.5,1)" font-size="8.2" fill="#fff" stroke="#fff" stroke-width="0.5" text-anchor="middle">16</text>
<text x="1245.16" y="506.09999999999997" transform="scale(0.62,1)" font-size="7.8" fill="#fff" stroke="#fff" stroke-width="0.5" text-anchor="start">TD2E2</text>
<g fill="#fff"><use href="#g1" transform="translate(817.00,500.70) scale(1.040)"/><use href="#g6" transform="translate(821.80,500.70) scale(1.040)"/><use href="#g7" transform="translate(826.60,500.70) scale(1.040)"/><use href="#g4" transform="translate(831.40,500.70) scale(1.040)"/><use href="#g5" transform="translate(836.20,500.70) scale(1.040)"/><use href="#g2" transform="translate(841.00,500.70) scale(1.040)"/></g>
<text x="1477.50" y="506.09999999999997" transform="scale(0.6,1)" font-size="7" fill="#fff" stroke="#fff" stroke-width="0.5" text-anchor="middle">1</text>
<text x="1555.00" y="506.09999999999997" transform="scale(0.6,1)" font-size="7" fill="#fff" stroke="#fff" stroke-width="0.5" text-anchor="middle">10</text>
<text x="1527.60" y="514.35" transform="scale(0.5,1)" font-size="8.2" fill="#fff" stroke="#fff" stroke-width="0.5" text-anchor="middle">15</text>
<text x="1245.16" y="514.15" transform="scale(0.62,1)" font-size="7.8" fill="#fff" stroke="#fff" stroke-width="0.5" text-anchor="start">TD2J6-11</text>
<g fill="#fff"><use href="#g3" transform="translate(817.00,508.75) scale(1.040)"/><use href="#g0" transform="translate(821.80,508.75) scale(1.040)"/><use href="#g1" transform="translate(826.60,508.75) scale(1.040)"/><use href="#g6" transform="translate(831.40,508.75) scale(1.040)"/><use href="#g7" transform="translate(836.20,508.75) scale(1.040)"/><use href="#g4" transform="translate(841.00,508.75) scale(1.040)"/></g>
<text x="1477.50" y="514.15" transform="scale(0.6,1)" font-size="7" fill="#fff" stroke="#fff" stroke-width="0.5" text-anchor="middle">1</text>
<text x="1555.00" y="514.15" transform="scale(0.6,1)" font-size="7" fill="#fff" stroke="#fff" stroke-width="0.5" text-anchor="middle">57</text>
<text x="1527.60" y="522.4" transform="scale(0.5,1)" font-size="8.2" fill="#fff" stroke="#fff" stroke-width="0.5" text-anchor="middle">14</text>
<text x="1245.16" y="522.2" transform="scale(0.62,1)" font-size="7.8" fill="#fff" stroke="#fff" stroke-width="0.5" text-anchor="start">TD2JB-1</text>
<g fill="#fff"><use href="#g5" transform="translate(817.00,516.80) scale(1.040)"/><use href="#g2" transform="translate(821.80,516.80) scale(1.040)"/><use href="#g3" transform="translate(826.60,516.80) scale(1.040)"/><use href="#g0" transform="translate(831.40,516.80) scale(1.040)"/></g>
<text x="1522.18" y="522.2" transform="scale(0.55,1)" font-size="7.5" fill="#fff" stroke="#fff" stroke-width="0.5" text-anchor="start">L=3900</text>
<text x="1477.50" y="522.2" transform="scale(0.6,1)" font-size="7" fill="#fff" stroke="#fff" stroke-width="0.5" text-anchor="middle">8</text>
<text x="1529.17" y="522.2" transform="scale(0.6,1)" font-size="6.5" fill="#fff" stroke="#fff" stroke-width="0.5" text-anchor="middle">11</text>
<text x="1555.00" y="522.2" transform="scale(0.6,1)" font-size="7" fill="#fff" stroke="#fff" stroke-width="0.5" text-anchor="middle">88</text>
<text x="1527.60" y="530.4499999999999" transform="scale(0.5,1)" font-size="8.2" fill="#fff" stroke="#fff" stroke-width="0.5" text-anchor="middle">13</text>
<text x="1245.16" y="530.25" transform="scale(0.62,1)" font-size="7.8" fill="#fff" stroke="#fff" stroke-width="0.5" text-anchor="start">TD2JB-2</text>
<g fill="#fff"><use href="#g1" transform="translate(817.00,524.85) scale(1.040)"/><use href="#g6" transform="translate(821.80,524.85) scale(1.040)"/><use href="#g7" transform="translate(826.60,524.85) scale(1.040)"/><use href="#g4" transform="translate(831.40,524.85) scale(1.040)"/></g>
<text x="1522.18" y="530.25" transform="scale(0.55,1)" font-size="7.5" fill="#fff" stroke="#fff" stroke-width="0.5" text-anchor="start">L=3900</text>
<text x="1477.50" y="530.25" transform="scale(0.6,1)" font-size="7" fill="#fff" stroke="#fff" stroke-width="0.5" text-anchor="middle">6</text>
<text x="1529.17" y="530.25" transform="scale(0.6,1)" font-size="6.5" fill="#fff" stroke="#fff" stroke-width="0.5" text-anchor="middle">37</text>
<text x="1555.00" y="530.25" transform="scale(0.6,1)" font-size="7" fill="#fff" stroke="#fff" stroke-width="0.5" text-anchor="middle">220</text>
<text x="1527.60" y="538.5" transform="scale(0.5,1)" font-size="8.2" fill="#fff" stroke="#fff" stroke-width="0.5" text-anchor="middle">12</text>
<text x="1245.16" y="538.3000000000001" transform="scale(0.62,1)" font-size="7.8" fill="#fff" stroke="#fff" stroke-width="0.5" text-anchor="start">TD1J7-2</text>
<g fill="#fff"><use href="#g5" transform="translate(817.00,532.90) scale(1.040)"/><use href="#g2" transform="translate(821.80,532.90) scale(1.040)"/><use href="#g3" transform="translate(826.60,532.90) scale(1.040)"/><use href="#g0" transform="translate(831.40,532.90) scale(1.040)"/></g>
<text x="1522.18" y="538.3000000000001" transform="scale(0.55,1)" font-size="7.5" fill="#fff" stroke="#fff" stroke-width="0.5" text-anchor="start">L=3371B</text>
<text x="1477.50" y="538.3000000000001" transform="scale(0.6,1)" font-size="7" fill="#fff" stroke="#fff" stroke-width="0.5" text-anchor="middle">1</text>
<text x="1555.00" y="538.3000000000001" transform="scale(0.6,1)" font-size="7" fill="#fff" stroke="#fff" stroke-width="0.5" text-anchor="middle">72</text>
<text x="1527.60" y="546.55" transform="scale(0.5,1)" font-size="8.2" fill="#fff" stroke="#fff" stroke-width="0.5" text-anchor="middle">11</text>
<text x="1245.16" y="546.35" transform="scale(0.62,1)" font-size="7.8" fill="#fff" stroke="#fff" stroke-width="0.5" text-anchor="start">TD1J7-1</text>
<g fill="#fff"><use href="#g1" transform="translate(817.00,540.95) scale(1.040)"/><use href="#g6" transform="translate(821.80,540.95) scale(1.040)"/><use href="#g7" transform="translate(826.60,540.95) scale(1.040)"/><use href="#g4" transform="translate(831.40,540.95) scale(1.040)"/></g>
<text x="1522.18" y="546.35" transform="scale(0.55,1)" font-size="7.5" fill="#fff" stroke="#fff" stroke-width="0.5" text-anchor="start">L=6000</text>
<text x="1477.50" y="546.35" transform="scale(0.6,1)" font-size="7" fill="#fff" stroke="#fff" stroke-width="0.5" text-anchor="middle">7</text>
<text x="1529.17" y="546.35" transform="scale(0.6,1)" font-size="6.5" fill="#fff" stroke="#fff" stroke-width="0.5" text-anchor="middle">79</text>
<text x="1555.00" y="546.35" transform="scale(0.6,1)" font-size="7" fill="#fff" stroke="#fff" stroke-width="0.5" text-anchor="middle">552</text>
<text x="1527.60" y="554.6" transform="scale(0.5,1)" font-size="8.2" fill="#fff" stroke="#fff" stroke-width="0.5" text-anchor="middle">10</text>
<text x="1245.16" y="554.4000000000001" transform="scale(0.62,1)" font-size="7.8" fill="#fff" stroke="#fff" stroke-width="0.5" text-anchor="start">TD2C6</text>
<g fill="#fff"><use href="#g5" transform="translate(817.00,549.00) scale(1.040)"/><use href="#g2" transform="translate(821.80,549.00) scale(1.040)"/><use href="#g3" transform="translate(826.60,549.00) scale(1.040)"/><use href="#g0" transform="translate(831.40,549.00) scale(1.040)"/><use href="#g1" transform="translate(836.20,549.00) scale(1.040)"/><use href="#g6" transform="translate(841.00,549.00) scale(1.040)"/></g>
<text x="1477.50" y="554.4000000000001" transform="scale(0.6,1)" font-size="7" fill="#fff" stroke="#fff" stroke-width="0.5" text-anchor="middle">4</text>
<text x="1529.17" y="554.4000000000001" transform="scale(0.6,1)" font-size="6.5" fill="#fff" stroke="#fff" stroke-width="0.5" text-anchor="middle">45</text>
<text x="1555.00" y="554.4000000000001" transform="scale(0.6,1)" font-size="7" fill="#fff" stroke="#fff" stroke-width="0.5" text-anchor="middle">180</text>
<g fill="#fff"><use href="#g7" transform="translate(947.00,549.00) scale(1.000)"/><use href="#g4" transform="translate(952.00,549.00) scale(1.000)"/><use href="#g5" transform="translate(957.00,549.00) scale(1.000)"/></g>
<text x="1091.14" y="562.65" transform="scale(0.7,1)" font-size="8.2" fill="#fff" stroke="#fff" stroke-width="0.5" text-anchor="middle">9</text>
<text x="1245.16" y="562.45" transform="scale(0.62,1)" font-size="7.8" fill="#fff" stroke="#fff" stroke-width="0.5" text-anchor="start">TD2C4</text>
<g fill="#fff"><use href="#g2" transform="translate(817.00,557.05) scale(1.040)"/><use href="#g3" transform="translate(821.80,557.05) scale(1.040)"/><use href="#g0" transform="translate(826.60,557.05) scale(1.040)"/><use href="#g1" transform="translate(831.40,557.05) scale(1.040)"/><use href="#g6" transform="translate(836.20,557.05) scale(1.040)"/><use href="#g7" transform="translate(841.00,557.05) scale(1.040)"/></g>
<text x="1477.50" y="562.45" transform="scale(0.6,1)" font-size="7" fill="#fff" stroke="#fff" stroke-width="0.5" text-anchor="middle">7</text>
<text x="1529.17" y="562.45" transform="scale(0.6,1)" font-size="6.5" fill="#fff" stroke="#fff" stroke-width="0.5" text-anchor="middle">45</text>
<text x="1555.00" y="562.45" transform="scale(0.6,1)" font-size="7" fill="#fff" stroke="#fff" stroke-width="0.5" text-anchor="middle">315</text>
<g fill="#fff"><use href="#g4" transform="translate(947.00,557.00) scale(1.000)"/><use href="#g5" transform="translate(952.00,557.00) scale(1.000)"/><use href="#g2" transform="translate(957.00,557.00) scale(1.000)"/></g>
<text x="1091.14" y="570.6999999999999" transform="scale(0.7,1)" font-size="8.2" fill="#fff" stroke="#fff" stroke-width="0.5" text-anchor="middle">8</text>
<text x="1245.16" y="570.5" transform="scale(0.62,1)" font-size="7.8" fill="#fff" stroke="#fff" stroke-width="0.5" text-anchor="start">TD2C9</text>
<g fill="#fff"><use href="#g3" transform="translate(817.00,565.10) scale(1.040)"/><use href="#g0" transform="translate(821.80,565.10) scale(1.040)"/><use href="#g1" transform="translate(826.60,565.10) scale(1.040)"/><use href="#g6" transform="translate(831.40,565.10) scale(1.040)"/><use href="#g7" transform="translate(836.20,565.10) scale(1.040)"/><use href="#g4" transform="translate(841.00,565.10) scale(1.040)"/></g>
<text x="1477.50" y="570.5" transform="scale(0.6,1)" font-size="7" fill="#fff" stroke="#fff" stroke-width="0.5" text-anchor="middle">7</text>
<text x="1529.17" y="570.5" transform="scale(0.6,1)" font-size="6.5" fill="#fff" stroke="#fff" stroke-width="0.5" text-anchor="middle">23</text>
<text x="1555.00" y="570.5" transform="scale(0.6,1)" font-size="7" fill="#fff" stroke="#fff" stroke-width="0.5" text-anchor="middle">179</text>
<g fill="#fff"><use href="#g5" transform="translate(947.00,565.00) scale(1.000)"/><use href="#g2" transform="translate(952.00,565.00) scale(1.000)"/><use href="#g3" transform="translate(957.00,565.00) scale(1.000)"/></g>
<text x="1091.14" y="578.75" transform="scale(0.7,1)" font-size="8.2" fill="#fff" stroke="#fff" stroke-width="0.5" text-anchor="middle">7</text>
<text x="1245.16" y="578.5500000000001" transform="scale(0.62,1)" font-size="7.8" fill="#fff" stroke="#fff" stroke-width="0.5" text-anchor="start">TD2C3</text>
<g fill="#fff"><use href="#g0" transform="translate(817.00,573.15) scale(1.040)"/><use href="#g1" transform="translate(821.80,573.15) scale(1.040)"/><use href="#g6" transform="translate(826.60,573.15) scale(1.040)"/><use href="#g7" transform="translate(831.40,573.15) scale(1.040)"/><use href="#g4" transform="translate(836.20,573.15) scale(1.040)"/><use href="#g5" transform="translate(841.00,573.15) scale(1.040)"/></g>
<text x="1477.50" y="578.5500000000001" transform="scale(0.6,1)" font-size="7" fill="#fff" stroke="#fff" stroke-width="0.5" text-anchor="middle">15</text>
<text x="1529.17" y="578.5500000000001" transform="scale(0.6,1)" font-size="6.5" fill="#fff" stroke="#fff" stroke-width="0.5" text-anchor="middle">32</text>
<text x="1555.00" y="578.5500000000001" transform="scale(0.6,1)" font-size="7" fill="#fff" stroke="#fff" stroke-width="0.5" text-anchor="middle">380</text>
<g fill="#fff"><use href="#g2" transform="translate(947.00,573.00) scale(1.000)"/><use href="#g3" transform="translate(952.00,573.00) scale(1.000)"/><use href="#g0" transform="translate(957.00,573.00) scale(1.000)"/></g>
<text x="1091.14" y="586.8" transform="scale(0.7,1)" font-size="8.2" fill="#fff" stroke="#fff" stroke-width="0.5" text-anchor="middle">6</text>
<text x="1245.16" y="586.6" transform="scale(0.62,1)" font-size="7.8" fill="#fff" stroke="#fff" stroke-width="0.5" text-anchor="start">TD2C1</text>
<g fill="#fff"><use href="#g1" transform="translate(817.00,581.20) scale(1.040)"/><use href="#g6" transform="translate(821.80,581.20) scale(1.040)"/><use href="#g7" transform="translate(826.60,581.20) scale(1.040)"/><use href="#g4" transform="translate(831.40,581.20) scale(1.040)"/><use href="#g5" transform="translate(836.20,581.20) scale(1.040)"/><use href="#g2" transform="translate(841.00,581.20) scale(1.040)"/></g>
<text x="1477.50" y="586.6" transform="scale(0.6,1)" font-size="7" fill="#fff" stroke="#fff" stroke-width="0.5" text-anchor="middle">37</text>
<text x="1529.17" y="586.6" transform="scale(0.6,1)" font-size="6.5" fill="#fff" stroke="#fff" stroke-width="0.5" text-anchor="middle">23</text>
<text x="1555.00" y="586.6" transform="scale(0.6,1)" font-size="7" fill="#fff" stroke="#fff" stroke-width="0.5" text-anchor="middle">749</text>
<g fill="#fff"><use href="#g3" transform="translate(947.00,581.00) scale(1.000)"/><use href="#g0" transform="translate(952.00,581.00) scale(1.000)"/><use href="#g1" transform="translate(957.00,581.00) scale(1.000)"/></g>
<text x="1091.14" y="594.85" transform="scale(0.7,1)" font-size="8.2" fill="#fff" stroke="#fff" stroke-width="0.5" text-anchor="middle">5</text>
<text x="1245.16" y="594.6500000000001" transform="scale(0.62,1)" font-size="7.8" fill="#fff" stroke="#fff" stroke-width="0.5" text-anchor="start">TD2G1</text>
<g fill="#fff"><use href="#g6" transform="translate(817.00,589.25) scale(1.040)"/><use href="#g7" transform="translate(821.80,589.25) scale(1.040)"/><use href="#g4" transform="translate(826.60,589.25) scale(1.040)"/><use href="#g5" transform="translate(831.40,589.25) scale(1.040)"/></g>
<text x="1522.18" y="594.6500000000001" transform="scale(0.55,1)" font-size="7.5" fill="#fff" stroke="#fff" stroke-width="0.5" text-anchor="start"> 323</text>
<text x="1477.50" y="594.6500000000001" transform="scale(0.6,1)" font-size="7" fill="#fff" stroke="#fff" stroke-width="0.5" text-anchor="middle">2</text>
<text x="1529.17" y="594.6500000000001" transform="scale(0.6,1)" font-size="6.5" fill="#fff" stroke="#fff" stroke-width="0.5" text-anchor="middle">254</text>
<text x="1555.00" y="594.6500000000001" transform="scale(0.6,1)" font-size="7" fill="#fff" stroke="#fff" stroke-width="0.5" text-anchor="middle">620</text>
<text x="1091.14" y="602.9" transform="scale(0.7,1)" font-size="8.2" fill="#fff" stroke="#fff" stroke-width="0.5" text-anchor="middle">4</text>
<text x="1245.16" y="602.7" transform="scale(0.62,1)" font-size="7.8" fill="#fff" stroke="#fff" stroke-width="0.5" text-anchor="start">TD2G2</text>
<g fill="#fff"><use href="#g2" transform="translate(817.00,597.30) scale(1.040)"/><use href="#g3" transform="translate(821.80,597.30) scale(1.040)"/><use href="#g0" transform="translate(826.60,597.30) scale(1.040)"/><use href="#g1" transform="translate(831.40,597.30) scale(1.040)"/></g>
<text x="1522.18" y="602.7" transform="scale(0.55,1)" font-size="7.5" fill="#fff" stroke="#fff" stroke-width="0.5" text-anchor="start"> 400</text>
<text x="1477.50" y="602.7" transform="scale(0.6,1)" font-size="7" fill="#fff" stroke="#fff" stroke-width="0.5" text-anchor="middle">1</text>
<text x="1555.00" y="602.7" transform="scale(0.6,1)" font-size="7" fill="#fff" stroke="#fff" stroke-width="0.5" text-anchor="middle">332</text>
<text x="1091.14" y="610.9499999999999" transform="scale(0.7,1)" font-size="8.2" fill="#fff" stroke="#fff" stroke-width="0.5" text-anchor="middle">3</text>
<text x="1245.16" y="610.75" transform="scale(0.62,1)" font-size="7.8" fill="#fff" stroke="#fff" stroke-width="0.5" text-anchor="start">TD2J2-232</text>
<g fill="#fff"><use href="#g6" transform="translate(817.00,605.35) scale(1.040)"/><use href="#g7" transform="translate(821.80,605.35) scale(1.040)"/><use href="#g4" transform="translate(826.60,605.35) scale(1.040)"/><use href="#g5" transform="translate(831.40,605.35) scale(1.040)"/></g>
<text x="1522.18" y="610.75" transform="scale(0.55,1)" font-size="7.5" fill="#fff" stroke="#fff" stroke-width="0.5" text-anchor="start"> H=600</text>
<text x="1477.50" y="610.75" transform="scale(0.6,1)" font-size="7" fill="#fff" stroke="#fff" stroke-width="0.5" text-anchor="middle">1</text>
<text x="1555.00" y="610.75" transform="scale(0.6,1)" font-size="7" fill="#fff" stroke="#fff" stroke-width="0.5" text-anchor="middle">50</text>
<text x="1091.14" y="619.0" transform="scale(0.7,1)" font-size="8.2" fill="#fff" stroke="#fff" stroke-width="0.5" text-anchor="middle">2</text>
<text x="1245.16" y="618.8000000000001" transform="scale(0.62,1)" font-size="7.8" fill="#fff" stroke="#fff" stroke-width="0.5" text-anchor="start">TD2J1-305</text>
<g fill="#fff"><use href="#g2" transform="translate(817.00,613.40) scale(1.040)"/><use href="#g3" transform="translate(821.80,613.40) scale(1.040)"/><use href="#g0" transform="translate(826.60,613.40) scale(1.040)"/><use href="#g1" transform="translate(831.40,613.40) scale(1.040)"/></g>
<text x="1522.18" y="618.8000000000001" transform="scale(0.55,1)" font-size="7.5" fill="#fff" stroke="#fff" stroke-width="0.5" text-anchor="start"> H=550</text>
<text x="1477.50" y="618.8000000000001" transform="scale(0.6,1)" font-size="7" fill="#fff" stroke="#fff" stroke-width="0.5" text-anchor="middle">1</text>
<text x="1555.00" y="618.8000000000001" transform="scale(0.6,1)" font-size="7" fill="#fff" stroke="#fff" stroke-width="0.5" text-anchor="middle">100</text>
<g fill="#fff"><use href="#g6" transform="translate(947.00,613.00) scale(1.000)"/><use href="#g7" transform="translate(952.00,613.00) scale(1.000)"/><use href="#g4" transform="translate(957.00,613.00) scale(1.000)"/></g>
<text x="1091.14" y="627.05" transform="scale(0.7,1)" font-size="8.2" fill="#fff" stroke="#fff" stroke-width="0.5" text-anchor="middle">1</text>
<text x="1400.00" y="626.85" transform="scale(0.55,1)" font-size="7.8" fill="#fff" stroke="#fff" stroke-width="0.5" text-anchor="start">YZWT-L3-1.8-6330</text>
<g fill="#fff"><use href="#g5" transform="translate(817.00,621.00) scale(1.000)"/><use href="#g2" transform="translate(822.00,621.00) scale(1.000)"/><use href="#g3" transform="translate(827.00,621.00) scale(1.000)"/><use href="#g0" transform="translate(831.00,621.00) scale(1.000)"/><use href="#g1" transform="translate(836.00,621.00) scale(1.000)"/></g>
<text x="1477.50" y="626.85" transform="scale(0.6,1)" font-size="7" fill="#fff" stroke="#fff" stroke-width="0.5" text-anchor="middle">1</text>
<g fill="#fff"><use href="#g6" transform="translate(761.50,629.60) scale(0.800)"/></g>
<g fill="#fff"><use href="#g7" transform="translate(761.50,635.60) scale(0.800)"/></g>
<g fill="#fff"><use href="#g4" transform="translate(775.00,632.10) scale(0.840)"/><use href="#g5" transform="translate(779.40,632.10) scale(0.840)"/><use href="#g2" transform="translate(783.80,632.10) scale(0.840)"/><use href="#g3" transform="translate(788.20,632.10) scale(0.840)"/><use href="#g0" transform="translate(792.60,632.10) scale(0.840)"/><use href="#g1" transform="translate(797.00,632.10) scale(0.840)"/></g>
<g fill="#fff"><use href="#g6" transform="translate(830.00,632.10) scale(0.840)"/><use href="#g7" transform="translate(834.40,632.10) scale(0.840)"/><use href="#g4" transform="translate(838.80,632.10) scale(0.840)"/><use href="#g5" transform="translate(843.20,632.10) scale(0.840)"/><use href="#g2" transform="translate(847.60,632.10) scale(0.840)"/><use href="#g3" transform="translate(852.00,632.10) scale(0.840)"/></g>
<g fill="#fff"><use href="#g0" transform="translate(873.50,629.60) scale(0.800)"/></g>
<g fill="#fff"><use href="#g1" transform="translate(873.50,635.60) scale(0.800)"/></g>
<g fill="#fff"><use href="#g6" transform="translate(885.00,629.60) scale(0.800)"/></g>
<g fill="#fff"><use href="#g7" transform="translate(885.00,635.60) scale(0.800)"/></g>
<g fill="#fff"><use href="#g4" transform="translate(896.00,629.60) scale(0.800)"/></g>
<g fill="#fff"><use href="#g5" transform="translate(896.00,635.60) scale(0.800)"/></g>
<g fill="#fff"><use href="#g2" transform="translate(912.00,629.10) scale(0.800)"/><use href="#g3" transform="translate(917.00,629.10) scale(0.800)"/></g>
<g fill="#fff"><use href="#g0" transform="translate(929.00,629.10) scale(0.800)"/><use href="#g1" transform="translate(934.00,629.10) scale(0.800)"/></g>
<text x="1027.78" y="640.6" transform="scale(0.9,1)" font-size="5" fill="#fff" stroke="#fff" stroke-width="0.35" text-anchor="middle" font-weight="bold">(kg)</text>
<g fill="#fff"><use href="#g6" transform="translate(949.00,632.10) scale(0.840)"/></g>
<g fill="#fff"><use href="#g7" transform="translate(957.00,632.10) scale(0.840)"/></g>
<line x1="334.5" y1="641.5" x2="334.5" y2="687.5" stroke="#00ff00" stroke-width="1"/>
<line x1="389.5" y1="641.5" x2="389.5" y2="687.5" stroke="#00ff00" stroke-width="1"/>
<line x1="406.5" y1="641.5" x2="406.5" y2="687.5" stroke="#00ff00" stroke-width="1"/>
<line x1="424.5" y1="641.5" x2="424.5" y2="687.5" stroke="#00ff00" stroke-width="1"/>
<line x1="441.5" y1="641.5" x2="441.5" y2="687.5" stroke="#00ff00" stroke-width="1"/>
<line x1="458.5" y1="641.5" x2="458.5" y2="687.5" stroke="#00ff00" stroke-width="1"/>
<line x1="496.5" y1="641.5" x2="496.5" y2="687.5" stroke="#00ff00" stroke-width="1"/>
<line x1="519.5" y1="641.5" x2="519.5" y2="687.5" stroke="#00ff00" stroke-width="1"/>
<line x1="540.5" y1="641.5" x2="540.5" y2="687.5" stroke="#00ff00" stroke-width="1"/>
<line x1="551.5" y1="641.5" x2="551.5" y2="687.5" stroke="#00ff00" stroke-width="1"/>
<line x1="572.5" y1="641.5" x2="572.5" y2="687.5" stroke="#00ff00" stroke-width="1"/>
<line x1="595.5" y1="641.5" x2="595.5" y2="687.5" stroke="#00ff00" stroke-width="1"/>
<line x1="616.5" y1="641.5" x2="616.5" y2="687.5" stroke="#00ff00" stroke-width="1"/>
<line x1="322.7" y1="650.5" x2="628" y2="650.5" stroke="#00ff00" stroke-width="1"/>
<line x1="322.7" y1="659.5" x2="628" y2="659.5" stroke="#00ff00" stroke-width="1"/>
<line x1="322.7" y1="669.5" x2="628" y2="669.5" stroke="#00ff00" stroke-width="1"/>
<line x1="322.7" y1="678.5" x2="628" y2="678.5" stroke="#00ff00" stroke-width="1"/>
<line x1="650.5" y1="641.5" x2="650.5" y2="687.5" stroke="#00ff00" stroke-width="1"/>
<line x1="719.5" y1="641.5" x2="719.5" y2="687.5" stroke="#00ff00" stroke-width="1"/>
<line x1="736.5" y1="659.5" x2="736.5" y2="687.5" stroke="#00ff00" stroke-width="1"/>
<line x1="685.5" y1="669.5" x2="685.5" y2="687.5" stroke="#00ff00" stroke-width="1"/>
<line x1="628" y1="650.5" x2="650.6" y2="650.5" stroke="#00ff00" stroke-width="1"/>
<line x1="719.7" y1="650.5" x2="759.3" y2="650.5" stroke="#00ff00" stroke-width="1"/>
<line x1="628" y1="659.5" x2="759.3" y2="659.5" stroke="#00ff00" stroke-width="1"/>
<line x1="628" y1="669.5" x2="759.3" y2="669.5" stroke="#00ff00" stroke-width="1"/>
<line x1="628" y1="678.5" x2="685.3" y2="678.5" stroke="#00ff00" stroke-width="1"/>
<line x1="719.7" y1="678.5" x2="759.3" y2="678.5" stroke="#00ff00" stroke-width="1"/>
<line x1="779.5" y1="641.5" x2="779.5" y2="659" stroke="#00ff00" stroke-width="1"/>
<line x1="759.3" y1="659.5" x2="966" y2="659.5" stroke="#00ff00" stroke-width="1"/>
<line x1="862.5" y1="641.5" x2="862.5" y2="687.5" stroke="#00ff00" stroke-width="1"/>
<line x1="885.5" y1="659" x2="885.5" y2="687.5" stroke="#00ff00" stroke-width="1"/>
<line x1="862.8" y1="673.5" x2="966" y2="673.5" stroke="#00ff00" stroke-width="1"/>
<line x1="954.5" y1="673.5" x2="954.5" y2="687.5" stroke="#00ff00" stroke-width="1"/>
<polyline points="955.5,684.5 960.5,676.5 965,684.5 955.5,684.5" fill="none" stroke="#00ff00" stroke-width="1.2"/>
<polyline points="324.5,676.5 329,670.5 333,676.5 324.5,676.5" fill="none" stroke="#00ff00" stroke-width="1.2"/>
<rect x="323" y="642" width="643" height="45.5" fill="none" stroke="#fff" stroke-width="2"/>
<line x1="476" y1="641.5" x2="476" y2="687.5" stroke="#fff" stroke-width="2"/>
<line x1="628" y1="641.5" x2="628" y2="687.5" stroke="#fff" stroke-width="2"/>
<line x1="760" y1="641.5" x2="760" y2="687.5" stroke="#fff" stroke-width="2"/>
<g fill="#fff"><use href="#g4" transform="translate(326.00,680.00) scale(0.700)"/></g>
<g fill="#00ffff"><use href="#g5" transform="translate(326.00,680.00) scale(1.200)"/></g>
<g fill="#00ffff"><use href="#g2" transform="translate(346.00,680.00) scale(0.800)"/><use href="#g3" transform="translate(349.90,680.00) scale(0.800)"/><use href="#g0" transform="translate(353.80,680.00) scale(0.800)"/><use href="#g1" transform="translate(357.70,680.00) scale(0.800)"/><use href="#g6" transform="translate(361.60,680.00) scale(0.800)"/><use href="#g7" transform="translate(365.50,680.00) scale(0.800)"/><use href="#g4" transform="translate(369.40,680.00) scale(0.800)"/><use href="#g5" transform="translate(373.30,680.00) scale(0.800)"/></g>
<g fill="#00ffff"><use href="#g2" transform="translate(391.00,681.00) scale(0.800)"/><use href="#g3" transform="translate(394.30,681.00) scale(0.800)"/><use href="#g0" transform="translate(397.60,681.00) scale(0.800)"/><use href="#g1" transform="translate(400.90,681.00) scale(0.800)"/></g>
<g fill="#00ffff"><use href="#g6" transform="translate(408.50,681.00) scale(0.800)"/><use href="#g7" transform="translate(411.80,681.00) scale(0.800)"/><use href="#g4" transform="translate(415.10,681.00) scale(0.800)"/><use href="#g5" transform="translate(418.40,681.00) scale(0.800)"/></g>
<g fill="#00ffff"><use href="#g2" transform="translate(426.00,681.00) scale(0.800)"/><use href="#g3" transform="translate(429.30,681.00) scale(0.800)"/><use href="#g0" transform="translate(432.60,681.00) scale(0.800)"/><use href="#g1" transform="translate(435.90,681.00) scale(0.800)"/></g>
<g fill="#00ffff"><use href="#g6" transform="translate(443.00,681.00) scale(0.800)"/><use href="#g7" transform="translate(446.30,681.00) scale(0.800)"/><use href="#g4" transform="translate(449.60,681.00) scale(0.800)"/><use href="#g5" transform="translate(452.90,681.00) scale(0.800)"/></g>
<g fill="#00ffff"><use href="#g2" transform="translate(461.00,681.00) scale(0.800)"/><use href="#g3" transform="translate(464.30,681.00) scale(0.800)"/><use href="#g0" transform="translate(467.60,681.00) scale(0.800)"/><use href="#g1" transform="translate(470.90,681.00) scale(0.800)"/></g>
<g fill="#00ffff"><use href="#g6" transform="translate(478.00,679.50) scale(0.660)"/><use href="#g7" transform="translate(480.90,679.50) scale(0.660)"/><use href="#g4" transform="translate(483.80,679.50) scale(0.660)"/><use href="#g5" transform="translate(486.70,679.50) scale(0.660)"/><use href="#g2" transform="translate(489.60,679.50) scale(0.660)"/><use href="#g3" transform="translate(492.50,679.50) scale(0.660)"/></g>
<g fill="#00ffff"><use href="#g0" transform="translate(478.00,683.50) scale(0.660)"/><use href="#g1" transform="translate(480.90,683.50) scale(0.660)"/><use href="#g6" transform="translate(483.80,683.50) scale(0.660)"/><use href="#g7" transform="translate(486.70,683.50) scale(0.660)"/><use href="#g4" transform="translate(489.60,683.50) scale(0.660)"/><use href="#g5" transform="translate(492.50,683.50) scale(0.660)"/></g>
<g fill="#00ffff"><use href="#g2" transform="translate(555.00,643.00) scale(0.640)"/><use href="#g3" transform="translate(563.00,643.00) scale(0.640)"/></g>
<g fill="#00ffff"><use href="#g0" transform="translate(553.00,646.30) scale(0.600)"/><use href="#g1" transform="translate(556.30,646.30) scale(0.600)"/><use href="#g6" transform="translate(559.60,646.30) scale(0.600)"/><use href="#g7" transform="translate(562.90,646.30) scale(0.600)"/><use href="#g4" transform="translate(566.20,646.30) scale(0.600)"/></g>
<g fill="#00ffff"><use href="#g5" transform="translate(555.00,652.00) scale(0.640)"/><use href="#g2" transform="translate(563.00,652.00) scale(0.640)"/></g>
<g fill="#00ffff"><use href="#g3" transform="translate(553.00,655.30) scale(0.600)"/><use href="#g0" transform="translate(556.30,655.30) scale(0.600)"/><use href="#g1" transform="translate(559.60,655.30) scale(0.600)"/><use href="#g6" transform="translate(562.90,655.30) scale(0.600)"/><use href="#g7" transform="translate(566.20,655.30) scale(0.600)"/></g>
<g fill="#00ffff"><use href="#g4" transform="translate(555.00,661.00) scale(0.640)"/><use href="#g5" transform="translate(563.00,661.00) scale(0.640)"/></g>
<g fill="#00ffff"><use href="#g2" transform="translate(553.00,664.30) scale(0.600)"/><use href="#g3" transform="translate(556.30,664.30) scale(0.600)"/><use href="#g0" transform="translate(559.60,664.30) scale(0.600)"/><use href="#g1" transform="translate(562.90,664.30) scale(0.600)"/><use href="#g6" transform="translate(566.20,664.30) scale(0.600)"/></g>
<g fill="#00ffff"><use href="#g7" transform="translate(555.00,671.00) scale(0.640)"/><use href="#g4" transform="translate(563.00,671.00) scale(0.640)"/></g>
<g fill="#00ffff"><use href="#g5" transform="translate(553.00,674.30) scale(0.600)"/><use href="#g2" transform="translate(556.30,674.30) scale(0.600)"/><use href="#g3" transform="translate(559.60,674.30) scale(0.600)"/><use href="#g0" transform="translate(562.90,674.30) scale(0.600)"/><use href="#g1" transform="translate(566.20,674.30) scale(0.600)"/></g>
<g fill="#00ffff"><use href="#g6" transform="translate(555.00,680.00) scale(0.640)"/><use href="#g7" transform="translate(563.00,680.00) scale(0.640)"/></g>
<g fill="#00ffff"><use href="#g4" transform="translate(553.00,683.30) scale(0.600)"/><use href="#g5" transform="translate(556.30,683.30) scale(0.600)"/><use href="#g2" transform="translate(559.60,683.30) scale(0.600)"/><use href="#g3" transform="translate(562.90,683.30) scale(0.600)"/><use href="#g0" transform="translate(566.20,683.30) scale(0.600)"/></g>
<g fill="#00ffff"><use href="#g1" transform="translate(631.00,643.50) scale(0.640)"/><use href="#g6" transform="translate(634.40,643.50) scale(0.640)"/><use href="#g7" transform="translate(637.80,643.50) scale(0.640)"/><use href="#g4" transform="translate(641.20,643.50) scale(0.640)"/><use href="#g5" transform="translate(644.60,643.50) scale(0.640)"/></g>
<g fill="#00ffff"><use href="#g2" transform="translate(631.00,647.00) scale(0.600)"/><use href="#g3" transform="translate(634.40,647.00) scale(0.600)"/><use href="#g0" transform="translate(637.80,647.00) scale(0.600)"/><use href="#g1" transform="translate(641.20,647.00) scale(0.600)"/><use href="#g6" transform="translate(644.60,647.00) scale(0.600)"/></g>
<g fill="#00ffff"><use href="#g7" transform="translate(631.00,661.00) scale(0.640)"/><use href="#g4" transform="translate(634.40,661.00) scale(0.640)"/><use href="#g5" transform="translate(637.80,661.00) scale(0.640)"/><use href="#g2" transform="translate(641.20,661.00) scale(0.640)"/><use href="#g3" transform="translate(644.60,661.00) scale(0.640)"/></g>
<g fill="#00ffff"><use href="#g0" transform="translate(631.00,664.50) scale(0.600)"/><use href="#g1" transform="translate(634.40,664.50) scale(0.600)"/><use href="#g6" transform="translate(637.80,664.50) scale(0.600)"/><use href="#g7" transform="translate(641.20,664.50) scale(0.600)"/><use href="#g4" transform="translate(644.60,664.50) scale(0.600)"/></g>
<g fill="#00ffff"><use href="#g5" transform="translate(631.00,670.50) scale(0.640)"/><use href="#g2" transform="translate(634.40,670.50) scale(0.640)"/><use href="#g3" transform="translate(637.80,670.50) scale(0.640)"/><use href="#g0" transform="translate(641.20,670.50) scale(0.640)"/><use href="#g1" transform="translate(644.60,670.50) scale(0.640)"/></g>
<g fill="#00ffff"><use href="#g6" transform="translate(631.00,674.00) scale(0.600)"/><use href="#g7" transform="translate(634.40,674.00) scale(0.600)"/><use href="#g4" transform="translate(637.80,674.00) scale(0.600)"/><use href="#g5" transform="translate(641.20,674.00) scale(0.600)"/><use href="#g2" transform="translate(644.60,674.00) scale(0.600)"/></g>
<g fill="#00ffff"><use href="#g3" transform="translate(631.00,680.00) scale(0.640)"/><use href="#g0" transform="translate(634.40,680.00) scale(0.640)"/><use href="#g1" transform="translate(637.80,680.00) scale(0.640)"/><use href="#g6" transform="translate(641.20,680.00) scale(0.640)"/><use href="#g7" transform="translate(644.60,680.00) scale(0.640)"/></g>
<g fill="#00ffff"><use href="#g4" transform="translate(631.00,683.50) scale(0.600)"/><use href="#g5" transform="translate(634.40,683.50) scale(0.600)"/><use href="#g2" transform="translate(637.80,683.50) scale(0.600)"/><use href="#g3" transform="translate(641.20,683.50) scale(0.600)"/><use href="#g0" transform="translate(644.60,683.50) scale(0.600)"/></g>
<g fill="#00ffff"><use href="#g1" transform="translate(723.00,643.00) scale(0.600)"/><use href="#g6" transform="translate(726.60,643.00) scale(0.600)"/><use href="#g7" transform="translate(730.20,643.00) scale(0.600)"/><use href="#g4" transform="translate(733.80,643.00) scale(0.600)"/><use href="#g5" transform="translate(737.40,643.00) scale(0.600)"/><use href="#g2" transform="translate(741.00,643.00) scale(0.600)"/><use href="#g3" transform="translate(744.60,643.00) scale(0.600)"/><use href="#g0" transform="translate(748.20,643.00) scale(0.600)"/><use href="#g1" transform="translate(751.80,643.00) scale(0.600)"/></g>
<g fill="#00ffff"><use href="#g6" transform="translate(723.00,646.50) scale(0.600)"/><use href="#g7" transform="translate(726.60,646.50) scale(0.600)"/><use href="#g4" transform="translate(730.20,646.50) scale(0.600)"/><use href="#g5" transform="translate(733.80,646.50) scale(0.600)"/><use href="#g2" transform="translate(737.40,646.50) scale(0.600)"/><use href="#g3" transform="translate(741.00,646.50) scale(0.600)"/><use href="#g0" transform="translate(744.60,646.50) scale(0.600)"/><use href="#g1" transform="translate(748.20,646.50) scale(0.600)"/><use href="#g6" transform="translate(751.80,646.50) scale(0.600)"/></g>
<g fill="#00ffff"><use href="#g7" transform="translate(722.50,661.00) scale(0.640)"/><use href="#g4" transform="translate(728.50,661.00) scale(0.640)"/></g>
<g fill="#00ffff"><use href="#g5" transform="translate(722.50,664.50) scale(0.600)"/><use href="#g2" transform="translate(726.10,664.50) scale(0.600)"/><use href="#g3" transform="translate(729.70,664.50) scale(0.600)"/></g>
<g fill="#00ffff"><use href="#g0" transform="translate(722.50,670.50) scale(0.640)"/><use href="#g1" transform="translate(728.50,670.50) scale(0.640)"/></g>
<g fill="#00ffff"><use href="#g6" transform="translate(722.50,674.00) scale(0.600)"/><use href="#g7" transform="translate(726.10,674.00) scale(0.600)"/><use href="#g4" transform="translate(729.70,674.00) scale(0.600)"/></g>
<g fill="#00ffff"><use href="#g5" transform="translate(722.50,680.00) scale(0.640)"/><use href="#g2" transform="translate(728.50,680.00) scale(0.640)"/></g>
<g fill="#00ffff"><use href="#g3" transform="translate(722.50,683.50) scale(0.600)"/><use href="#g0" transform="translate(726.10,683.50) scale(0.600)"/><use href="#g1" transform="translate(729.70,683.50) scale(0.600)"/></g>
<g fill="#00ffff"><use href="#g6" transform="translate(661.00,673.00) scale(0.700)"/><use href="#g7" transform="translate(664.60,673.00) scale(0.700)"/><use href="#g4" transform="translate(668.20,673.00) scale(0.700)"/><use href="#g5" transform="translate(671.80,673.00) scale(0.700)"/><use href="#g2" transform="translate(675.40,673.00) scale(0.700)"/><use href="#g3" transform="translate(679.00,673.00) scale(0.700)"/></g>
<g fill="#00ffff"><use href="#g0" transform="translate(661.00,681.50) scale(0.700)"/><use href="#g1" transform="translate(664.60,681.50) scale(0.700)"/><use href="#g6" transform="translate(668.20,681.50) scale(0.700)"/><use href="#g7" transform="translate(671.80,681.50) scale(0.700)"/><use href="#g4" transform="translate(675.40,681.50) scale(0.700)"/><use href="#g5" transform="translate(679.00,681.50) scale(0.700)"/></g>
<text x="935.00" y="667.5" transform="scale(0.8,1)" font-size="6.5" fill="#fff" stroke="#fff" stroke-width="0.35" text-anchor="middle" font-weight="bold">A1</text>
<text x="997.33" y="676.5" transform="scale(0.75,1)" font-size="6" fill="#fff" stroke="#fff" stroke-width="0.35" text-anchor="middle" font-weight="bold">1:150</text>
<text x="1038.89" y="685.5" transform="scale(0.72,1)" font-size="5.5" fill="#fff" stroke="#fff" stroke-width="0.35" text-anchor="middle" font-weight="bold">2013.03</text>
<g fill="#00ffff"><use href="#g2" transform="translate(764.00,645.00) scale(0.700)"/><use href="#g3" transform="translate(770.00,645.00) scale(0.700)"/></g>
<g fill="#00ffff"><use href="#g0" transform="translate(764.00,650.00) scale(0.600)"/><use href="#g1" transform="translate(767.60,650.00) scale(0.600)"/><use href="#g6" transform="translate(771.20,650.00) scale(0.600)"/></g>
<g fill="#00ffff"><use href="#g7" transform="translate(760.00,662.00) scale(0.700)"/><use href="#g4" transform="translate(767.00,662.00) scale(0.700)"/></g>
<g fill="#00ffff"><use href="#g5" transform="translate(760.00,666.50) scale(0.600)"/><use href="#g2" transform="translate(763.60,666.50) scale(0.600)"/><use href="#g3" transform="translate(767.20,666.50) scale(0.600)"/><use href="#g0" transform="translate(770.80,666.50) scale(0.600)"/><use href="#g1" transform="translate(774.40,666.50) scale(0.600)"/><use href="#g6" transform="translate(778.00,666.50) scale(0.600)"/></g>
<g fill="#00ffff"><use href="#g7" transform="translate(866.00,663.00) scale(0.700)"/><use href="#g4" transform="translate(870.00,663.00) scale(0.700)"/><use href="#g5" transform="translate(874.00,663.00) scale(0.700)"/><use href="#g2" transform="translate(878.00,663.00) scale(0.700)"/></g>
<g fill="#00ffff"><use href="#g3" transform="translate(866.00,667.50) scale(0.600)"/><use href="#g0" transform="translate(869.40,667.50) scale(0.600)"/><use href="#g1" transform="translate(872.80,667.50) scale(0.600)"/><use href="#g6" transform="translate(876.20,667.50) scale(0.600)"/><use href="#g7" transform="translate(879.60,667.50) scale(0.600)"/></g>
<g fill="#00ffff"><use href="#g4" transform="translate(867.00,677.00) scale(0.700)"/><use href="#g5" transform="translate(874.00,677.00) scale(0.700)"/></g>
<g fill="#00ffff"><use href="#g2" transform="translate(866.00,681.50) scale(0.600)"/><use href="#g3" transform="translate(869.40,681.50) scale(0.600)"/><use href="#g0" transform="translate(872.80,681.50) scale(0.600)"/><use href="#g1" transform="translate(876.20,681.50) scale(0.600)"/><use href="#g6" transform="translate(879.60,681.50) scale(0.600)"/></g>
<g fill="#fff"><use href="#g7" transform="translate(800.00,666.50) scale(0.900)"/><use href="#g4" transform="translate(804.60,666.50) scale(0.900)"/><use href="#g5" transform="translate(809.20,666.50) scale(0.900)"/><use href="#g2" transform="translate(813.80,666.50) scale(0.900)"/><use href="#g3" transform="translate(818.40,666.50) scale(0.900)"/></g>
<g fill="#fff"><use href="#g0" transform="translate(785.00,674.50) scale(0.900)"/><use href="#g1" transform="translate(789.30,674.50) scale(0.900)"/><use href="#g6" transform="translate(793.60,674.50) scale(0.900)"/><use href="#g7" transform="translate(797.90,674.50) scale(0.900)"/><use href="#g4" transform="translate(802.20,674.50) scale(0.900)"/><use href="#g5" transform="translate(806.50,674.50) scale(0.900)"/><use href="#g2" transform="translate(810.80,674.50) scale(0.900)"/><use href="#g3" transform="translate(815.10,674.50) scale(0.900)"/><use href="#g0" transform="translate(819.40,674.50) scale(0.900)"/><use href="#g1" transform="translate(823.70,674.50) scale(0.900)"/><use href="#g6" transform="translate(828.00,674.50) scale(0.900)"/><use href="#g7" transform="translate(832.30,674.50) scale(0.900)"/></g>
<polyline points="693,678.5 703,674.5 703,682.5 693,678.5" fill="none" stroke="#00ff00" stroke-width="1"/>
<circle cx="709" cy="678.5" r="3" fill="none" stroke="#00ff00" stroke-width="1"/>
<line x1="704" y1="678.5" x2="714" y2="678.5" stroke="#00ff00" stroke-width="1"/>
<line x1="709.5" y1="673" x2="709.5" y2="684" stroke="#00ff00" stroke-width="1"/>
</svg></body></html>
